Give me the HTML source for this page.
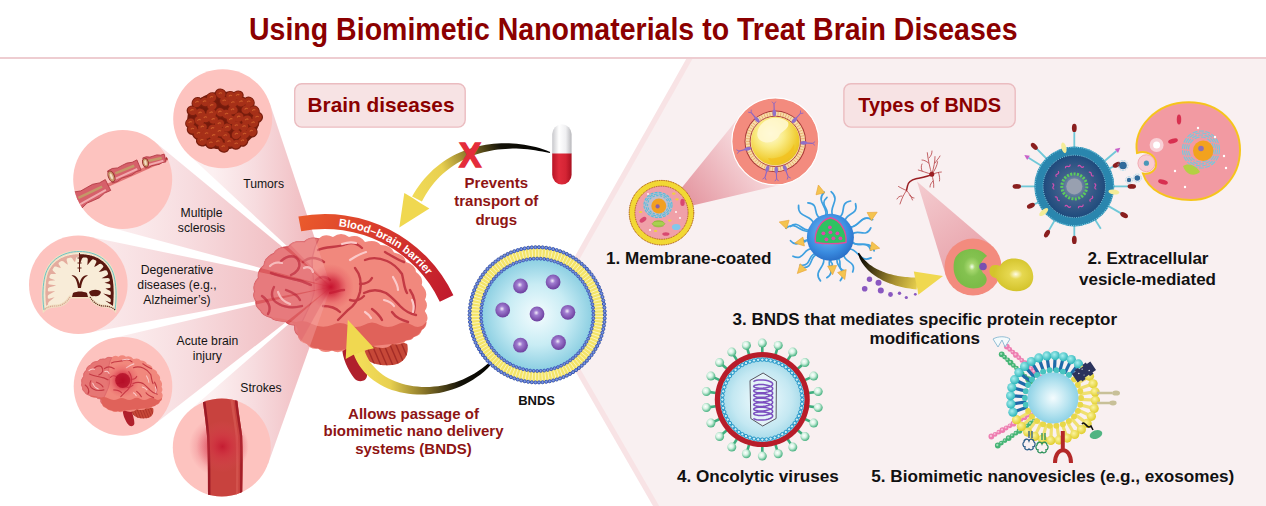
<!DOCTYPE html>
<html><head><meta charset="utf-8"><title>Using Biomimetic Nanomaterials to Treat Brain Diseases</title>
<style>
html,body{margin:0;padding:0;background:#fff;width:1266px;height:506px;overflow:hidden}
svg{display:block}
text{font-family:"Liberation Sans",sans-serif}
.b{font-weight:bold}
</style></head><body>
<svg width="1266" height="506" viewBox="0 0 1266 506">
<defs>
<linearGradient id="arr1" gradientUnits="userSpaceOnUse" x1="550" y1="150" x2="412" y2="205">
<stop offset="0" stop-color="#000"/><stop offset="0.3" stop-color="#141208"/><stop offset="0.52" stop-color="#8a7628"/><stop offset="0.72" stop-color="#e8d050"/><stop offset="1" stop-color="#f2dc58"/></linearGradient>
<linearGradient id="arr2" gradientUnits="userSpaceOnUse" x1="497" y1="355" x2="362" y2="360">
<stop offset="0" stop-color="#000"/><stop offset="0.28" stop-color="#141208"/><stop offset="0.55" stop-color="#8a7628"/><stop offset="0.8" stop-color="#e8d050"/><stop offset="1" stop-color="#f2dc58"/></linearGradient>
<linearGradient id="arr3" gradientUnits="userSpaceOnUse" x1="858" y1="253" x2="940" y2="280"><stop offset="0" stop-color="#000"/><stop offset="0.18" stop-color="#3a3010"/><stop offset="0.5" stop-color="#a89030"/><stop offset="0.8" stop-color="#ecd450"/><stop offset="1" stop-color="#f2dc58"/></linearGradient>
<linearGradient id="bbb" gradientUnits="userSpaceOnUse" x1="300" y1="220" x2="450" y2="300">
<stop offset="0" stop-color="#ea5a2c"/><stop offset="0.45" stop-color="#d83a2c"/><stop offset="1" stop-color="#c01a2c"/></linearGradient>
<radialGradient id="glow" cx="0.5" cy="0.5" r="0.5">
<stop offset="0" stop-color="#c40c2a" stop-opacity="0.95"/><stop offset="0.35" stop-color="#cc1c36" stop-opacity="0.7"/><stop offset="0.7" stop-color="#dc3c50" stop-opacity="0.25"/><stop offset="1" stop-color="#e04050" stop-opacity="0"/></radialGradient>
<radialGradient id="bnds" cx="0.5" cy="0.5" r="0.5">
<stop offset="0" stop-color="#f4fcfe"/><stop offset="0.55" stop-color="#c8ecf4"/><stop offset="1" stop-color="#8ccfe2"/></radialGradient>
<radialGradient id="pdot" cx="0.45" cy="0.42" r="0.6">
<stop offset="0" stop-color="#f4eefa"/><stop offset="0.3" stop-color="#a07cd0"/><stop offset="1" stop-color="#6a3c9c"/></radialGradient>
<linearGradient id="pillw" x1="0" y1="0" x2="1" y2="0">
<stop offset="0" stop-color="#c8c8cc"/><stop offset="0.35" stop-color="#ffffff"/><stop offset="0.7" stop-color="#f0f0f2"/><stop offset="1" stop-color="#b8b8bc"/></linearGradient>
<linearGradient id="pillr" x1="0" y1="0" x2="1" y2="0">
<stop offset="0" stop-color="#b81426"/><stop offset="0.35" stop-color="#e02c3c"/><stop offset="0.7" stop-color="#d42434"/><stop offset="1" stop-color="#a81020"/></linearGradient>
<radialGradient id="ysph" cx="0.4" cy="0.35" r="0.7">
<stop offset="0" stop-color="#fffce4"/><stop offset="0.4" stop-color="#faec88"/><stop offset="0.8" stop-color="#f0cc30"/><stop offset="1" stop-color="#e8bc1c"/></radialGradient>
<radialGradient id="vir" cx="0.5" cy="0.5" r="0.5">
<stop offset="0" stop-color="#f4fcfe"/><stop offset="0.7" stop-color="#c4e8f2"/><stop offset="1" stop-color="#a0d8e8"/></radialGradient>
<radialGradient id="exo" cx="0.5" cy="0.5" r="0.5">
<stop offset="0" stop-color="#f4fcfe"/><stop offset="0.6" stop-color="#b8e4f0"/><stop offset="1" stop-color="#8ed2e6"/></radialGradient>
<radialGradient id="ev" cx="0.5" cy="0.5" r="0.5">
<stop offset="0" stop-color="#a0acbc"/><stop offset="0.45" stop-color="#40608c"/><stop offset="1" stop-color="#1e4a7c"/></radialGradient>
<radialGradient id="blueNP" cx="0.45" cy="0.4" r="0.6">
<stop offset="0" stop-color="#80c4f4"/><stop offset="0.7" stop-color="#3a8ce0"/><stop offset="1" stop-color="#2a70c8"/></radialGradient>
<radialGradient id="ball" cx="0.4" cy="0.38" r="0.6">
<stop offset="0" stop-color="#ffffff"/><stop offset="0.45" stop-color="#d4f2e2"/><stop offset="1" stop-color="#4cb484"/></radialGradient>
<radialGradient id="greenblob" cx="0.55" cy="0.45" r="0.5">
<stop offset="0" stop-color="#f4fff0"/><stop offset="0.18" stop-color="#a8d870"/><stop offset="0.5" stop-color="#84c250"/><stop offset="1" stop-color="#7cbc48"/></radialGradient>
<radialGradient id="yellowbulb" cx="0.6" cy="0.48" r="0.5">
<stop offset="0" stop-color="#fffce8"/><stop offset="0.3" stop-color="#e6d850"/><stop offset="1" stop-color="#d4c42c"/></radialGradient>
<radialGradient id="strokeglow" cx="0.5" cy="0.5" r="0.5">
<stop offset="0" stop-color="#c41830" stop-opacity="0.9"/><stop offset="0.45" stop-color="#d83048" stop-opacity="0.4"/><stop offset="1" stop-color="#e05060" stop-opacity="0"/></radialGradient>
<radialGradient id="tealball" cx="0.4" cy="0.38" r="0.6"><stop offset="0" stop-color="#a8eeee"/><stop offset="1" stop-color="#30b8bc"/></radialGradient>
<radialGradient id="yelball" cx="0.4" cy="0.38" r="0.6"><stop offset="0" stop-color="#fbf4a0"/><stop offset="1" stop-color="#e2cf30"/></radialGradient>
<clipPath id="clipStroke"><circle cx="221.8" cy="447.4" r="49"/></clipPath>
<clipPath id="clipAcute"><circle cx="123" cy="386.4" r="49.3"/></clipPath>
</defs>

<polygon points="686.2,59 1266,59 1266,506 653.0,506 542.4,314.0" fill="#f8e3e5"/>
<polygon points="692.4,59 1266,59 1266,506 659.2,506 548.6,314.0" fill="#f9f0f1"/>
<rect x="0" y="57" width="1266" height="2" fill="#eecdd1"/>
<text x="249" y="39.7" class="b" font-size="30.7" fill="#8b0000" textLength="768.5" lengthAdjust="spacingAndGlyphs">Using Biomimetic Nanomaterials to Treat Brain Diseases</text>
<rect x="294.7" y="83.7" width="170.5" height="43.4" rx="7" fill="#f7e3e4" stroke="#ebbcc0" stroke-width="1.4"/>
<text x="307.5" y="112.1" class="b" font-size="21" fill="#8b0000" textLength="147" lengthAdjust="spacingAndGlyphs">Brain diseases</text>
<rect x="843.9" y="83.7" width="171.3" height="43.4" rx="7" fill="#f7e3e4" stroke="#ebbcc0" stroke-width="1.4"/>
<text x="858.3" y="112.1" class="b" font-size="21" fill="#8b0000" textLength="142.7" lengthAdjust="spacingAndGlyphs">Types of BNDS</text>
<linearGradient id="bm0" gradientUnits="userSpaceOnUse" x1="331" y1="0" x2="212.8" y2="0"><stop offset="0" stop-color="#eeb0b6"/><stop offset="0.3" stop-color="#f2c4c8"/><stop offset="0.65" stop-color="#f7dcdf"/><stop offset="1" stop-color="#fcf0f1"/></linearGradient>
<path d="M331,287 L269.7,103.1 L222.7,118.8 L189.0,155.1Z" fill="url(#bm0)"/>
<linearGradient id="bm1" gradientUnits="userSpaceOnUse" x1="331" y1="0" x2="112.8" y2="0"><stop offset="0" stop-color="#eeb0b6"/><stop offset="0.3" stop-color="#f2c4c8"/><stop offset="0.65" stop-color="#f7dcdf"/><stop offset="1" stop-color="#fcf0f1"/></linearGradient>
<path d="M331,287 L154.2,141.2 L122.7,179.4 L109.8,227.2Z" fill="url(#bm1)"/>
<linearGradient id="bm2" gradientUnits="userSpaceOnUse" x1="331" y1="0" x2="68.4" y2="0"><stop offset="0" stop-color="#eeb0b6"/><stop offset="0.3" stop-color="#f2c4c8"/><stop offset="0.65" stop-color="#f7dcdf"/><stop offset="1" stop-color="#fcf0f1"/></linearGradient>
<path d="M331,287 L88.4,236.4 L78.3,284.7 L87.5,333.1Z" fill="url(#bm2)"/>
<linearGradient id="bm3" gradientUnits="userSpaceOnUse" x1="331" y1="0" x2="113.1" y2="0"><stop offset="0" stop-color="#eeb0b6"/><stop offset="0.3" stop-color="#f2c4c8"/><stop offset="0.65" stop-color="#f7dcdf"/><stop offset="1" stop-color="#fcf0f1"/></linearGradient>
<path d="M331,287 L111.7,338.4 L123.0,386.4 L153.3,425.3Z" fill="url(#bm3)"/>
<linearGradient id="bm4" gradientUnits="userSpaceOnUse" x1="331" y1="0" x2="212.0" y2="0"><stop offset="0" stop-color="#eeb0b6"/><stop offset="0.3" stop-color="#f2c4c8"/><stop offset="0.65" stop-color="#f7dcdf"/><stop offset="1" stop-color="#fcf0f1"/></linearGradient>
<path d="M331,287 L189.6,410.5 L221.8,447.4 L268.0,463.9Z" fill="url(#bm4)"/>
<defs><g id="brainG">
<path d="M342,346 C342,358 348,370 354,378 C358,383 366,382 367,376 C368,368 362,356 362,346Z" fill="#b0202c"/>
<clipPath id="clipCb"><path d="M362,342 C376,338 396,338 407,344 C410,354 404,364 392,365 C380,366 371,364 365,358 C361,354 360,348 362,342Z"/></clipPath>
<path d="M362,342 C376,338 396,338 407,344 C410,354 404,364 392,365 C380,366 371,364 365,358 C361,354 360,348 362,342Z" fill="#c64838"/>
<g clip-path="url(#clipCb)">
<path d="M358.0,340.0 L370.0,368.0" stroke="#a42c26" stroke-width="1.4" fill="none"/>
<path d="M364.0,340.0 L376.0,368.0" stroke="#a42c26" stroke-width="1.4" fill="none"/>
<path d="M370.0,340.0 L382.0,368.0" stroke="#a42c26" stroke-width="1.4" fill="none"/>
<path d="M376.0,340.0 L388.0,368.0" stroke="#a42c26" stroke-width="1.4" fill="none"/>
<path d="M382.0,340.0 L394.0,368.0" stroke="#a42c26" stroke-width="1.4" fill="none"/>
<path d="M388.0,340.0 L400.0,368.0" stroke="#a42c26" stroke-width="1.4" fill="none"/>
<path d="M394.0,340.0 L406.0,368.0" stroke="#a42c26" stroke-width="1.4" fill="none"/>
<path d="M400.0,340.0 L412.0,368.0" stroke="#a42c26" stroke-width="1.4" fill="none"/>
<path d="M406.0,340.0 L418.0,368.0" stroke="#a42c26" stroke-width="1.4" fill="none"/>
</g>
<path d="M273.7,253.7 Q263.8,257.3 264.0,265.5 Q256.5,270.5 258.5,278.0 Q251.5,284.4 254.7,291.6 Q251.9,296.5 256.0,301.0 Q254.6,306.4 260.7,310.5 Q261.6,315.4 271.3,317.6 Q273.6,321.5 285.5,321.2 Q287.1,325.1 295.0,325.0 Q293.6,331.8 297.4,334.2 Q299.1,342.7 306.8,343.7 Q310.4,350.0 318.0,348.5 Q323.7,354.4 332.0,350.5 Q338.9,354.8 346.0,349.0 Q362.1,356.4 372.0,346.0 Q386.5,350.7 392.0,344.0 Q402.9,345.6 405.9,340.6 Q412.4,340.5 413.8,337.0 Q421.1,335.3 421.7,330.0 Q427.2,327.1 426.4,321.7 Q429.3,317.4 424.8,311.0 Q429.0,305.9 425.0,299.5 Q428.7,292.3 421.7,285.0 Q423.9,277.6 416.0,272.0 Q415.8,265.3 406.0,262.0 Q404.8,254.5 394.0,252.5 Q391.4,245.0 380.6,245.0 Q376.0,238.8 365.0,242.0 Q358.9,233.8 349.0,237.0 Q341.1,231.2 333.0,237.0 Q324.5,232.9 318.7,238.8 Q309.1,235.7 304.5,241.8 Q292.5,239.8 288.5,246.6 Q276.3,246.7 273.7,253.7Z" fill="#f1887d"/>
<path d="M318.7,238.8 Q309.5,236.5 304.5,241.8 Q293.1,240.5 288.5,246.6 Q277.1,247.3 273.7,253.7 Q264.7,257.7 264.0,265.5 Q257.3,270.7 258.5,278.0 Q252.4,284.4 254.7,291.6 Q252.5,296.4 256.0,301.0 Q255.2,306.3 260.7,310.5 Q262.3,315.1 271.3,317.6 Q274.4,321.2 285.5,321.2 Q287.6,324.7 295.0,325.0 Q294.0,331.5 297.4,334.2 C300,322 312,306 314,292 C316,278 306,262 318.7,238.8Z" fill="#e67674" stroke="#d65e64" stroke-width="1.3"/>
<path d="M271.3,317.6 Q278,322 285.5,321.2 Q292,321 295,325 Q299,329 297.4,334.2 Q300,341 306.8,343.7 Q311,348 318,348.5 Q325,351 332,350.5 Q339,351 346,349 L372,346 L392,344 Q400,344 405.9,340.6 Q411,340 413.8,337 Q419,335 421.7,330 Q426,327 426.4,321.7 Q420,330 412,325 Q404,320 396,325 Q388,329 380,325 Q372,320 364,325 Q356,329 348,325 Q340,321 332,325 Q322,329 312,324 Q304,319 296,322 C288,320 280,318 271.3,317.6Z" fill="#e0625a"/>
<path d="M281,261 C288,255 296,254 299,262 C301,268 296,273 291,275" stroke="#c43a44" stroke-width="2.4" fill="none" stroke-linecap="round"/>
<path d="M271,273 C278,276 288,278 297,280 C303,281 308,284 311,285" stroke="#c43a44" stroke-width="2.4" fill="none" stroke-linecap="round"/>
<path d="M274,287 C270,294 272,301 279,304 C286,308 294,308 302,306" stroke="#c43a44" stroke-width="2.4" fill="none" stroke-linecap="round"/>
<path d="M262,296 C268,300 272,308 268,314" stroke="#c43a44" stroke-width="2.4" fill="none" stroke-linecap="round"/>
<path d="M286,290 C292,292 298,296 300,300" stroke="#c43a44" stroke-width="2.4" fill="none" stroke-linecap="round"/>
<path d="M318,250 C326,246 338,248 346,244 C352,242 358,244 362,248" stroke="#c43a44" stroke-width="2.4" fill="none" stroke-linecap="round"/>
<path d="M303,262 C310,256 318,258 324,262" stroke="#c43a44" stroke-width="2.4" fill="none" stroke-linecap="round"/>
<path d="M365,260 C372,257 380,258 387,261 C394,264 398,268 402,274 C404,282 404,288 407,293" stroke="#c43a44" stroke-width="2.4" fill="none" stroke-linecap="round"/>
<path d="M355,268 C360,274 362,282 360,292 C358,300 354,306 348,310 C344,314 340,318 338,320" stroke="#c43a44" stroke-width="2.4" fill="none" stroke-linecap="round"/>
<path d="M360,284 C366,284 370,282 372,278" stroke="#c43a44" stroke-width="2.4" fill="none" stroke-linecap="round"/>
<path d="M350,300 C356,302 360,300 364,296" stroke="#c43a44" stroke-width="2.4" fill="none" stroke-linecap="round"/>
<path d="M364,293 C370,290 378,289 386,293 C392,297 396,302 400,306 C404,310 410,314 416,315" stroke="#c43a44" stroke-width="2.4" fill="none" stroke-linecap="round"/>
<path d="M372,309 C376,312 380,316 382,320" stroke="#c43a44" stroke-width="2.4" fill="none" stroke-linecap="round"/>
<path d="M330,293 C336,292 340,290 344,290" stroke="#c43a44" stroke-width="2.4" fill="none" stroke-linecap="round"/>
<path d="M323,306 C330,306 336,308 340,312" stroke="#c43a44" stroke-width="2.4" fill="none" stroke-linecap="round"/>
<path d="M385,252 C392,256 398,260 404,262" stroke="#c43a44" stroke-width="2.4" fill="none" stroke-linecap="round"/>
<path d="M410,290 C414,296 416,304 414,312" stroke="#c43a44" stroke-width="2.4" fill="none" stroke-linecap="round"/>
<path d="M392,312 C396,318 402,320 408,322" stroke="#c43a44" stroke-width="2.4" fill="none" stroke-linecap="round"/>
<path d="M316,280 C320,276 326,276 330,280" stroke="#c43a44" stroke-width="2.4" fill="none" stroke-linecap="round"/>
<path d="M342,244 C348,242 352,242 356,243" stroke="#fbcaca" stroke-width="2.2" fill="none" stroke-linecap="round"/>
<path d="M350,260 C356,256 362,253 366,252" stroke="#fbcaca" stroke-width="2.2" fill="none" stroke-linecap="round"/>
<path d="M393,277 C396,282 398,286 398,290" stroke="#fbcaca" stroke-width="2.2" fill="none" stroke-linecap="round"/>
<path d="M384,300 C388,301 392,303 394,306" stroke="#fbcaca" stroke-width="2.2" fill="none" stroke-linecap="round"/>
<path d="M365,312 C368,314 370,316 371,318" stroke="#fbcaca" stroke-width="2.2" fill="none" stroke-linecap="round"/>
<path d="M278,292 C280,298 284,302 290,304" stroke="#fbcaca" stroke-width="2.2" fill="none" stroke-linecap="round"/>
<path d="M270,266 C274,262 278,262 282,263" stroke="#fbcaca" stroke-width="2.2" fill="none" stroke-linecap="round"/>
<path d="M304,268 C308,266 312,268 313,272" stroke="#fbcaca" stroke-width="2.2" fill="none" stroke-linecap="round"/>
<path d="M412,300 C414,304 414,308 413,312" stroke="#fbcaca" stroke-width="2.2" fill="none" stroke-linecap="round"/>
</g></defs>
<use href="#brainG"/>
<clipPath id="clipBrain"><path d="M273.7,253.7 Q263.8,257.3 264.0,265.5 Q256.5,270.5 258.5,278.0 Q251.5,284.4 254.7,291.6 Q251.9,296.5 256.0,301.0 Q254.6,306.4 260.7,310.5 Q261.6,315.4 271.3,317.6 Q273.6,321.5 285.5,321.2 Q287.1,325.1 295.0,325.0 Q293.6,331.8 297.4,334.2 Q299.1,342.7 306.8,343.7 Q310.4,350.0 318.0,348.5 Q323.7,354.4 332.0,350.5 Q338.9,354.8 346.0,349.0 Q362.1,356.4 372.0,346.0 Q386.5,350.7 392.0,344.0 Q402.9,345.6 405.9,340.6 Q412.4,340.5 413.8,337.0 Q421.1,335.3 421.7,330.0 Q427.2,327.1 426.4,321.7 Q429.3,317.4 424.8,311.0 Q429.0,305.9 425.0,299.5 Q428.7,292.3 421.7,285.0 Q423.9,277.6 416.0,272.0 Q415.8,265.3 406.0,262.0 Q404.8,254.5 394.0,252.5 Q391.4,245.0 380.6,245.0 Q376.0,238.8 365.0,242.0 Q358.9,233.8 349.0,237.0 Q341.1,231.2 333.0,237.0 Q324.5,232.9 318.7,238.8 Q309.1,235.7 304.5,241.8 Q292.5,239.8 288.5,246.6 Q276.3,246.7 273.7,253.7Z"/></clipPath>
<g clip-path="url(#clipBrain)">
<path d="M331,287 L200,150 L150,300 L230,470Z" fill="#cc3440" opacity="0.4"/>
<path d="M331,287 L269.7,103.1 L222.7,118.8 L189.0,155.1Z" fill="#f6a6a6" opacity="0.42"/>
<path d="M331,287 L154.2,141.2 L122.7,179.4 L109.8,227.2Z" fill="#f6a6a6" opacity="0.42"/>
<path d="M331,287 L88.4,236.4 L78.3,284.7 L87.5,333.1Z" fill="#f6a6a6" opacity="0.42"/>
<path d="M331,287 L111.7,338.4 L123.0,386.4 L153.3,425.3Z" fill="#f6a6a6" opacity="0.42"/>
<path d="M331,287 L189.6,410.5 L221.8,447.4 L268.0,463.9Z" fill="#f6a6a6" opacity="0.42"/>
<path d="M281,261 C288,255 296,254 299,262 C301,268 296,273 291,275" stroke="#c43848" stroke-width="2.3" fill="none" stroke-linecap="round" opacity="0.75"/>
<path d="M271,273 C278,276 288,278 297,280 C303,281 308,284 311,285" stroke="#c43848" stroke-width="2.3" fill="none" stroke-linecap="round" opacity="0.75"/>
<path d="M274,287 C270,294 272,301 279,304 C286,308 294,308 302,306" stroke="#c43848" stroke-width="2.3" fill="none" stroke-linecap="round" opacity="0.75"/>
<path d="M262,296 C268,300 272,308 268,314" stroke="#c43848" stroke-width="2.3" fill="none" stroke-linecap="round" opacity="0.75"/>
<path d="M286,290 C292,292 298,296 300,300" stroke="#c43848" stroke-width="2.3" fill="none" stroke-linecap="round" opacity="0.75"/>
<path d="M278,292 C280,298 284,302 290,304" stroke="#fbcaca" stroke-width="2.2" fill="none" stroke-linecap="round" opacity="0.7"/>
<path d="M270,266 C274,262 278,262 282,263" stroke="#fbcaca" stroke-width="2.2" fill="none" stroke-linecap="round" opacity="0.7"/>
<path d="M304,268 C308,266 312,268 313,272" stroke="#fbcaca" stroke-width="2.2" fill="none" stroke-linecap="round" opacity="0.7"/>
</g>
<circle cx="331" cy="287" r="23" fill="url(#glow)"/>
<circle cx="222.7" cy="118.8" r="49.5" fill="#fdc3bf"/>
<circle cx="122.7" cy="179.4" r="49.5" fill="#fdc3bf"/>
<circle cx="78.3" cy="284.7" r="49.3" fill="#fdc3bf"/>
<circle cx="123" cy="386.4" r="49.3" fill="#fdc3bf"/>
<circle cx="221.8" cy="447.4" r="49" fill="#fdc3bf"/>
<ellipse cx="223" cy="120.5" rx="36" ry="29" fill="#741a0c"/>
<ellipse cx="220.1" cy="112.5" rx="5.7" ry="5.2" transform="rotate(36.7 220.1 112.5)" fill="#7a1e0e"/>
<ellipse cx="227.2" cy="127.8" rx="5.6" ry="5.1" transform="rotate(-12.1 227.2 127.8)" fill="#7a1e0e"/>
<ellipse cx="238.9" cy="117.5" rx="6.1" ry="5.6" transform="rotate(-34.3 238.9 117.5)" fill="#7a1e0e"/>
<ellipse cx="223.5" cy="147.2" rx="6.0" ry="5.5" transform="rotate(27.4 223.5 147.2)" fill="#7a1e0e"/>
<ellipse cx="213.9" cy="136.0" rx="5.7" ry="5.2" transform="rotate(-20.9 213.9 136.0)" fill="#7a1e0e"/>
<ellipse cx="236.6" cy="134.7" rx="5.9" ry="5.4" transform="rotate(-41.2 236.6 134.7)" fill="#7a1e0e"/>
<ellipse cx="204.8" cy="102.2" rx="5.8" ry="5.3" transform="rotate(31.0 204.8 102.2)" fill="#7a1e0e"/>
<ellipse cx="213.5" cy="120.0" rx="5.6" ry="5.1" transform="rotate(-7.5 213.5 120.0)" fill="#7a1e0e"/>
<ellipse cx="230.6" cy="96.6" rx="6.0" ry="5.5" transform="rotate(39.5 230.6 96.6)" fill="#7a1e0e"/>
<ellipse cx="190.5" cy="123.0" rx="5.6" ry="5.1" transform="rotate(-41.5 190.5 123.0)" fill="#7a1e0e"/>
<ellipse cx="202.5" cy="127.5" rx="5.6" ry="5.1" transform="rotate(-13.4 202.5 127.5)" fill="#7a1e0e"/>
<ellipse cx="236.6" cy="126.2" rx="6.1" ry="5.6" transform="rotate(-41.3 236.6 126.2)" fill="#7a1e0e"/>
<ellipse cx="211.1" cy="143.4" rx="6.0" ry="5.5" transform="rotate(-4.9 211.1 143.4)" fill="#7a1e0e"/>
<ellipse cx="246.4" cy="109.7" rx="5.9" ry="5.4" transform="rotate(-28.7 246.4 109.7)" fill="#7a1e0e"/>
<ellipse cx="247.0" cy="120.3" rx="6.1" ry="5.6" transform="rotate(-25.2 247.0 120.3)" fill="#7a1e0e"/>
<ellipse cx="200.3" cy="113.5" rx="6.0" ry="5.5" transform="rotate(46.6 200.3 113.5)" fill="#7a1e0e"/>
<ellipse cx="211.7" cy="97.9" rx="6.0" ry="5.5" transform="rotate(-36.3 211.7 97.9)" fill="#7a1e0e"/>
<ellipse cx="219.6" cy="124.2" rx="5.9" ry="5.4" transform="rotate(-32.7 219.6 124.2)" fill="#7a1e0e"/>
<ellipse cx="253.3" cy="123.3" rx="6.0" ry="5.4" transform="rotate(3.7 253.3 123.3)" fill="#7a1e0e"/>
<ellipse cx="202.0" cy="140.9" rx="6.1" ry="5.6" transform="rotate(12.5 202.0 140.9)" fill="#7a1e0e"/>
<ellipse cx="192.3" cy="111.0" rx="5.8" ry="5.3" transform="rotate(28.0 192.3 111.0)" fill="#7a1e0e"/>
<ellipse cx="212.8" cy="129.0" rx="5.8" ry="5.3" transform="rotate(-24.4 212.8 129.0)" fill="#7a1e0e"/>
<ellipse cx="224.4" cy="101.4" rx="5.9" ry="5.4" transform="rotate(44.4 224.4 101.4)" fill="#7a1e0e"/>
<ellipse cx="231.1" cy="120.0" rx="5.8" ry="5.3" transform="rotate(33.7 231.1 120.0)" fill="#7a1e0e"/>
<ellipse cx="205.6" cy="118.1" rx="6.0" ry="5.5" transform="rotate(6.8 205.6 118.1)" fill="#7a1e0e"/>
<ellipse cx="198.7" cy="133.8" rx="6.1" ry="5.5" transform="rotate(-36.2 198.7 133.8)" fill="#7a1e0e"/>
<ellipse cx="232.8" cy="110.3" rx="5.9" ry="5.4" transform="rotate(10.7 232.8 110.3)" fill="#7a1e0e"/>
<ellipse cx="241.2" cy="102.3" rx="6.0" ry="5.5" transform="rotate(-16.5 241.2 102.3)" fill="#7a1e0e"/>
<ellipse cx="212.0" cy="106.0" rx="5.8" ry="5.3" transform="rotate(-11.5 212.0 106.0)" fill="#7a1e0e"/>
<ellipse cx="251.5" cy="131.7" rx="6.2" ry="5.7" transform="rotate(25.5 251.5 131.7)" fill="#7a1e0e"/>
<ellipse cx="229.3" cy="142.2" rx="6.2" ry="5.6" transform="rotate(42.2 229.3 142.2)" fill="#7a1e0e"/>
<ellipse cx="254.0" cy="111.0" rx="6.0" ry="5.4" transform="rotate(39.4 254.0 111.0)" fill="#7a1e0e"/>
<ellipse cx="225.5" cy="136.1" rx="5.7" ry="5.2" transform="rotate(38.0 225.5 136.1)" fill="#7a1e0e"/>
<ellipse cx="244.7" cy="134.6" rx="5.7" ry="5.2" transform="rotate(-2.2 244.7 134.6)" fill="#7a1e0e"/>
<ellipse cx="242.7" cy="141.3" rx="5.8" ry="5.3" transform="rotate(-30.1 242.7 141.3)" fill="#7a1e0e"/>
<ellipse cx="197.2" cy="102.8" rx="6.0" ry="5.4" transform="rotate(-46.9 197.2 102.8)" fill="#7a1e0e"/>
<ellipse cx="218.1" cy="142.2" rx="5.9" ry="5.4" transform="rotate(25.4 218.1 142.2)" fill="#7a1e0e"/>
<ellipse cx="199.2" cy="120.8" rx="6.0" ry="5.5" transform="rotate(43.2 199.2 120.8)" fill="#7a1e0e"/>
<ellipse cx="220.6" cy="94.1" rx="6.0" ry="5.5" transform="rotate(22.7 220.6 94.1)" fill="#7a1e0e"/>
<ellipse cx="248.9" cy="102.4" rx="6.1" ry="5.6" transform="rotate(42.8 248.9 102.4)" fill="#7a1e0e"/>
<ellipse cx="206.8" cy="134.1" rx="6.3" ry="5.7" transform="rotate(-33.5 206.8 134.1)" fill="#7a1e0e"/>
<ellipse cx="192.6" cy="129.6" rx="5.9" ry="5.4" transform="rotate(6.5 192.6 129.6)" fill="#7a1e0e"/>
<ellipse cx="211.3" cy="113.3" rx="6.1" ry="5.6" transform="rotate(10.1 211.3 113.3)" fill="#7a1e0e"/>
<ellipse cx="226.7" cy="114.6" rx="6.1" ry="5.5" transform="rotate(31.3 226.7 114.6)" fill="#7a1e0e"/>
<ellipse cx="244.3" cy="127.1" rx="5.6" ry="5.1" transform="rotate(-49.7 244.3 127.1)" fill="#7a1e0e"/>
<ellipse cx="233.1" cy="103.1" rx="6.1" ry="5.6" transform="rotate(-47.7 233.1 103.1)" fill="#7a1e0e"/>
<ellipse cx="257.3" cy="117.6" rx="5.9" ry="5.4" transform="rotate(-36.8 257.3 117.6)" fill="#7a1e0e"/>
<ellipse cx="219.6" cy="131.9" rx="6.3" ry="5.7" transform="rotate(31.3 219.6 131.9)" fill="#7a1e0e"/>
<ellipse cx="236.4" cy="144.4" rx="5.8" ry="5.2" transform="rotate(-37.4 236.4 144.4)" fill="#7a1e0e"/>
<ellipse cx="237.9" cy="95.8" rx="5.9" ry="5.3" transform="rotate(-15.4 237.9 95.8)" fill="#7a1e0e"/>
<ellipse cx="220.1" cy="112.2" rx="4.6" ry="4.1" transform="rotate(36.7 220.1 112.5)" fill="#a63018"/>
<path d="M218.3,112.3 q1.5,-2 3.2,-0.6" stroke="#d0602c" stroke-width="1.1" fill="none" opacity="0.9"/>
<ellipse cx="227.2" cy="127.5" rx="4.5" ry="4.0" transform="rotate(-12.1 227.2 127.8)" fill="#a63018"/>
<path d="M225.4,127.6 q1.5,-2 3.2,-0.6" stroke="#d0602c" stroke-width="1.1" fill="none" opacity="0.9"/>
<ellipse cx="238.9" cy="117.2" rx="5.0" ry="4.5" transform="rotate(-34.3 238.9 117.5)" fill="#a63018"/>
<path d="M237.1,117.3 q1.5,-2 3.2,-0.6" stroke="#d0602c" stroke-width="1.1" fill="none" opacity="0.9"/>
<ellipse cx="223.5" cy="146.9" rx="4.9" ry="4.4" transform="rotate(27.4 223.5 147.2)" fill="#a63018"/>
<path d="M221.7,147.0 q1.5,-2 3.2,-0.6" stroke="#d0602c" stroke-width="1.1" fill="none" opacity="0.9"/>
<ellipse cx="213.9" cy="135.7" rx="4.6" ry="4.1" transform="rotate(-20.9 213.9 136.0)" fill="#a63018"/>
<path d="M212.1,135.8 q1.5,-2 3.2,-0.6" stroke="#d0602c" stroke-width="1.1" fill="none" opacity="0.9"/>
<ellipse cx="236.6" cy="134.4" rx="4.8" ry="4.3" transform="rotate(-41.2 236.6 134.7)" fill="#a63018"/>
<path d="M234.8,134.5 q1.5,-2 3.2,-0.6" stroke="#d0602c" stroke-width="1.1" fill="none" opacity="0.9"/>
<ellipse cx="204.8" cy="101.9" rx="4.7" ry="4.2" transform="rotate(31.0 204.8 102.2)" fill="#a63018"/>
<path d="M203.0,102.0 q1.5,-2 3.2,-0.6" stroke="#d0602c" stroke-width="1.1" fill="none" opacity="0.9"/>
<ellipse cx="213.5" cy="119.7" rx="4.5" ry="4.0" transform="rotate(-7.5 213.5 120.0)" fill="#a63018"/>
<path d="M211.7,119.8 q1.5,-2 3.2,-0.6" stroke="#d0602c" stroke-width="1.1" fill="none" opacity="0.9"/>
<ellipse cx="230.6" cy="96.3" rx="4.9" ry="4.4" transform="rotate(39.5 230.6 96.6)" fill="#a63018"/>
<path d="M228.8,96.4 q1.5,-2 3.2,-0.6" stroke="#d0602c" stroke-width="1.1" fill="none" opacity="0.9"/>
<ellipse cx="190.5" cy="122.7" rx="4.5" ry="4.0" transform="rotate(-41.5 190.5 123.0)" fill="#a63018"/>
<path d="M188.7,122.8 q1.5,-2 3.2,-0.6" stroke="#d0602c" stroke-width="1.1" fill="none" opacity="0.9"/>
<ellipse cx="202.5" cy="127.2" rx="4.5" ry="4.0" transform="rotate(-13.4 202.5 127.5)" fill="#a63018"/>
<path d="M200.7,127.3 q1.5,-2 3.2,-0.6" stroke="#d0602c" stroke-width="1.1" fill="none" opacity="0.9"/>
<ellipse cx="236.6" cy="125.9" rx="5.0" ry="4.5" transform="rotate(-41.3 236.6 126.2)" fill="#a63018"/>
<path d="M234.8,126.0 q1.5,-2 3.2,-0.6" stroke="#d0602c" stroke-width="1.1" fill="none" opacity="0.9"/>
<ellipse cx="211.1" cy="143.1" rx="4.9" ry="4.4" transform="rotate(-4.9 211.1 143.4)" fill="#a63018"/>
<path d="M209.3,143.2 q1.5,-2 3.2,-0.6" stroke="#d0602c" stroke-width="1.1" fill="none" opacity="0.9"/>
<ellipse cx="246.4" cy="109.4" rx="4.8" ry="4.3" transform="rotate(-28.7 246.4 109.7)" fill="#a63018"/>
<path d="M244.6,109.5 q1.5,-2 3.2,-0.6" stroke="#d0602c" stroke-width="1.1" fill="none" opacity="0.9"/>
<ellipse cx="247.0" cy="120.0" rx="5.0" ry="4.5" transform="rotate(-25.2 247.0 120.3)" fill="#a63018"/>
<path d="M245.2,120.1 q1.5,-2 3.2,-0.6" stroke="#d0602c" stroke-width="1.1" fill="none" opacity="0.9"/>
<ellipse cx="200.3" cy="113.2" rx="4.9" ry="4.4" transform="rotate(46.6 200.3 113.5)" fill="#a63018"/>
<path d="M198.5,113.3 q1.5,-2 3.2,-0.6" stroke="#d0602c" stroke-width="1.1" fill="none" opacity="0.9"/>
<ellipse cx="211.7" cy="97.6" rx="4.9" ry="4.4" transform="rotate(-36.3 211.7 97.9)" fill="#a63018"/>
<path d="M209.9,97.7 q1.5,-2 3.2,-0.6" stroke="#d0602c" stroke-width="1.1" fill="none" opacity="0.9"/>
<ellipse cx="219.6" cy="123.9" rx="4.8" ry="4.3" transform="rotate(-32.7 219.6 124.2)" fill="#a63018"/>
<path d="M217.8,124.0 q1.5,-2 3.2,-0.6" stroke="#d0602c" stroke-width="1.1" fill="none" opacity="0.9"/>
<ellipse cx="253.3" cy="123.0" rx="4.9" ry="4.3" transform="rotate(3.7 253.3 123.3)" fill="#a63018"/>
<path d="M251.5,123.1 q1.5,-2 3.2,-0.6" stroke="#d0602c" stroke-width="1.1" fill="none" opacity="0.9"/>
<ellipse cx="202.0" cy="140.6" rx="5.0" ry="4.5" transform="rotate(12.5 202.0 140.9)" fill="#a63018"/>
<path d="M200.2,140.7 q1.5,-2 3.2,-0.6" stroke="#d0602c" stroke-width="1.1" fill="none" opacity="0.9"/>
<ellipse cx="192.3" cy="110.7" rx="4.7" ry="4.2" transform="rotate(28.0 192.3 111.0)" fill="#a63018"/>
<path d="M190.5,110.8 q1.5,-2 3.2,-0.6" stroke="#d0602c" stroke-width="1.1" fill="none" opacity="0.9"/>
<ellipse cx="212.8" cy="128.7" rx="4.7" ry="4.2" transform="rotate(-24.4 212.8 129.0)" fill="#a63018"/>
<path d="M211.0,128.8 q1.5,-2 3.2,-0.6" stroke="#d0602c" stroke-width="1.1" fill="none" opacity="0.9"/>
<ellipse cx="224.4" cy="101.1" rx="4.8" ry="4.3" transform="rotate(44.4 224.4 101.4)" fill="#a63018"/>
<path d="M222.6,101.2 q1.5,-2 3.2,-0.6" stroke="#d0602c" stroke-width="1.1" fill="none" opacity="0.9"/>
<ellipse cx="231.1" cy="119.7" rx="4.7" ry="4.2" transform="rotate(33.7 231.1 120.0)" fill="#a63018"/>
<path d="M229.3,119.8 q1.5,-2 3.2,-0.6" stroke="#d0602c" stroke-width="1.1" fill="none" opacity="0.9"/>
<ellipse cx="205.6" cy="117.8" rx="4.9" ry="4.4" transform="rotate(6.8 205.6 118.1)" fill="#a63018"/>
<path d="M203.8,117.9 q1.5,-2 3.2,-0.6" stroke="#d0602c" stroke-width="1.1" fill="none" opacity="0.9"/>
<ellipse cx="198.7" cy="133.5" rx="5.0" ry="4.4" transform="rotate(-36.2 198.7 133.8)" fill="#a63018"/>
<path d="M196.9,133.6 q1.5,-2 3.2,-0.6" stroke="#d0602c" stroke-width="1.1" fill="none" opacity="0.9"/>
<ellipse cx="232.8" cy="110.0" rx="4.8" ry="4.3" transform="rotate(10.7 232.8 110.3)" fill="#a63018"/>
<path d="M231.0,110.1 q1.5,-2 3.2,-0.6" stroke="#d0602c" stroke-width="1.1" fill="none" opacity="0.9"/>
<ellipse cx="241.2" cy="102.0" rx="4.9" ry="4.4" transform="rotate(-16.5 241.2 102.3)" fill="#a63018"/>
<path d="M239.4,102.1 q1.5,-2 3.2,-0.6" stroke="#d0602c" stroke-width="1.1" fill="none" opacity="0.9"/>
<ellipse cx="212.0" cy="105.7" rx="4.7" ry="4.2" transform="rotate(-11.5 212.0 106.0)" fill="#a63018"/>
<path d="M210.2,105.8 q1.5,-2 3.2,-0.6" stroke="#d0602c" stroke-width="1.1" fill="none" opacity="0.9"/>
<ellipse cx="251.5" cy="131.4" rx="5.1" ry="4.6" transform="rotate(25.5 251.5 131.7)" fill="#a63018"/>
<path d="M249.7,131.5 q1.5,-2 3.2,-0.6" stroke="#d0602c" stroke-width="1.1" fill="none" opacity="0.9"/>
<ellipse cx="229.3" cy="141.9" rx="5.1" ry="4.5" transform="rotate(42.2 229.3 142.2)" fill="#a63018"/>
<path d="M227.5,142.0 q1.5,-2 3.2,-0.6" stroke="#d0602c" stroke-width="1.1" fill="none" opacity="0.9"/>
<ellipse cx="254.0" cy="110.7" rx="4.9" ry="4.3" transform="rotate(39.4 254.0 111.0)" fill="#a63018"/>
<path d="M252.2,110.8 q1.5,-2 3.2,-0.6" stroke="#d0602c" stroke-width="1.1" fill="none" opacity="0.9"/>
<ellipse cx="225.5" cy="135.8" rx="4.6" ry="4.1" transform="rotate(38.0 225.5 136.1)" fill="#a63018"/>
<path d="M223.7,135.9 q1.5,-2 3.2,-0.6" stroke="#d0602c" stroke-width="1.1" fill="none" opacity="0.9"/>
<ellipse cx="244.7" cy="134.3" rx="4.6" ry="4.1" transform="rotate(-2.2 244.7 134.6)" fill="#a63018"/>
<path d="M242.9,134.4 q1.5,-2 3.2,-0.6" stroke="#d0602c" stroke-width="1.1" fill="none" opacity="0.9"/>
<ellipse cx="242.7" cy="141.0" rx="4.7" ry="4.2" transform="rotate(-30.1 242.7 141.3)" fill="#a63018"/>
<path d="M240.9,141.1 q1.5,-2 3.2,-0.6" stroke="#d0602c" stroke-width="1.1" fill="none" opacity="0.9"/>
<ellipse cx="197.2" cy="102.5" rx="4.9" ry="4.3" transform="rotate(-46.9 197.2 102.8)" fill="#a63018"/>
<path d="M195.4,102.6 q1.5,-2 3.2,-0.6" stroke="#d0602c" stroke-width="1.1" fill="none" opacity="0.9"/>
<ellipse cx="218.1" cy="141.9" rx="4.8" ry="4.3" transform="rotate(25.4 218.1 142.2)" fill="#a63018"/>
<path d="M216.3,142.0 q1.5,-2 3.2,-0.6" stroke="#d0602c" stroke-width="1.1" fill="none" opacity="0.9"/>
<ellipse cx="199.2" cy="120.5" rx="4.9" ry="4.4" transform="rotate(43.2 199.2 120.8)" fill="#a63018"/>
<path d="M197.4,120.6 q1.5,-2 3.2,-0.6" stroke="#d0602c" stroke-width="1.1" fill="none" opacity="0.9"/>
<ellipse cx="220.6" cy="93.8" rx="4.9" ry="4.4" transform="rotate(22.7 220.6 94.1)" fill="#a63018"/>
<path d="M218.8,93.9 q1.5,-2 3.2,-0.6" stroke="#d0602c" stroke-width="1.1" fill="none" opacity="0.9"/>
<ellipse cx="248.9" cy="102.1" rx="5.0" ry="4.5" transform="rotate(42.8 248.9 102.4)" fill="#a63018"/>
<path d="M247.1,102.2 q1.5,-2 3.2,-0.6" stroke="#d0602c" stroke-width="1.1" fill="none" opacity="0.9"/>
<ellipse cx="206.8" cy="133.8" rx="5.2" ry="4.6" transform="rotate(-33.5 206.8 134.1)" fill="#a63018"/>
<path d="M205.0,133.9 q1.5,-2 3.2,-0.6" stroke="#d0602c" stroke-width="1.1" fill="none" opacity="0.9"/>
<ellipse cx="192.6" cy="129.3" rx="4.8" ry="4.3" transform="rotate(6.5 192.6 129.6)" fill="#a63018"/>
<path d="M190.8,129.4 q1.5,-2 3.2,-0.6" stroke="#d0602c" stroke-width="1.1" fill="none" opacity="0.9"/>
<ellipse cx="211.3" cy="113.0" rx="5.0" ry="4.5" transform="rotate(10.1 211.3 113.3)" fill="#a63018"/>
<path d="M209.5,113.1 q1.5,-2 3.2,-0.6" stroke="#d0602c" stroke-width="1.1" fill="none" opacity="0.9"/>
<ellipse cx="226.7" cy="114.3" rx="5.0" ry="4.4" transform="rotate(31.3 226.7 114.6)" fill="#a63018"/>
<path d="M224.9,114.4 q1.5,-2 3.2,-0.6" stroke="#d0602c" stroke-width="1.1" fill="none" opacity="0.9"/>
<ellipse cx="244.3" cy="126.8" rx="4.5" ry="4.0" transform="rotate(-49.7 244.3 127.1)" fill="#a63018"/>
<path d="M242.5,126.9 q1.5,-2 3.2,-0.6" stroke="#d0602c" stroke-width="1.1" fill="none" opacity="0.9"/>
<ellipse cx="233.1" cy="102.8" rx="5.0" ry="4.5" transform="rotate(-47.7 233.1 103.1)" fill="#a63018"/>
<path d="M231.3,102.9 q1.5,-2 3.2,-0.6" stroke="#d0602c" stroke-width="1.1" fill="none" opacity="0.9"/>
<ellipse cx="257.3" cy="117.3" rx="4.8" ry="4.3" transform="rotate(-36.8 257.3 117.6)" fill="#a63018"/>
<path d="M255.5,117.4 q1.5,-2 3.2,-0.6" stroke="#d0602c" stroke-width="1.1" fill="none" opacity="0.9"/>
<ellipse cx="219.6" cy="131.6" rx="5.2" ry="4.6" transform="rotate(31.3 219.6 131.9)" fill="#a63018"/>
<path d="M217.8,131.7 q1.5,-2 3.2,-0.6" stroke="#d0602c" stroke-width="1.1" fill="none" opacity="0.9"/>
<ellipse cx="236.4" cy="144.1" rx="4.7" ry="4.1" transform="rotate(-37.4 236.4 144.4)" fill="#a63018"/>
<path d="M234.6,144.2 q1.5,-2 3.2,-0.6" stroke="#d0602c" stroke-width="1.1" fill="none" opacity="0.9"/>
<ellipse cx="237.9" cy="95.5" rx="4.8" ry="4.2" transform="rotate(-15.4 237.9 95.8)" fill="#a63018"/>
<path d="M236.1,95.6 q1.5,-2 3.2,-0.6" stroke="#d0602c" stroke-width="1.1" fill="none" opacity="0.9"/>
<clipPath id="clipMS"><circle cx="122.7" cy="179.4" r="49.5"/></clipPath>
<g clip-path="url(#clipMS)">
<path d="M70,202 L170,157.5" stroke="#e27474" stroke-width="3.2" fill="none"/>
<path d="M166,159 L173,155" stroke="#a82c2c" stroke-width="2.2"/>
<path d="M75.8,210.6 L82.0,208.0 L87.1,203.1 L93.2,200.5 L99.4,197.7 L104.6,193.1 L110.7,190.4 L105.3,179.6 L99.4,182.9 L92.6,184.3 L86.8,187.5 L80.9,190.9 L74.0,192.0 L68.2,195.4Z" fill="#d6606a" stroke="#b23a44" stroke-width="0.9" stroke-linejoin="round"/>
<path d="M79.5,204.6 L105.9,189.8" stroke="#f2aaae" stroke-width="2"/>
<path d="M78.4,197.9 L102.1,186.6" stroke="#c49868" stroke-width="2.6"/>
<ellipse cx="73.3" cy="202.3" rx="3" ry="7.7" transform="rotate(-26.6 73.3 202.3)" fill="#c89a6c" stroke="#9a3030" stroke-width="0.9"/>
<ellipse cx="73.3" cy="202.3" rx="1.2" ry="4.25" transform="rotate(-26.6 73.3 202.3)" fill="#f4dcc4"/>
<path d="M112.5,183.0 L117.5,181.5 L121.8,178.1 L126.8,176.6 L131.8,174.9 L136.1,171.7 L141.1,170.1 L136.9,159.9 L132.2,162.3 L126.9,163.1 L122.2,165.4 L117.6,167.9 L112.2,168.5 L107.5,171.0Z" fill="#d6606a" stroke="#b23a44" stroke-width="0.9" stroke-linejoin="round"/>
<path d="M115.7,178.6 L137.3,169.0" stroke="#f2aaae" stroke-width="2"/>
<path d="M115.3,173.4 L134.2,165.8" stroke="#c49868" stroke-width="2.6"/>
<ellipse cx="111.4" cy="176.4" rx="3" ry="5.7" transform="rotate(-22.5 111.4 176.4)" fill="#c89a6c" stroke="#9a3030" stroke-width="0.9"/>
<ellipse cx="111.4" cy="176.4" rx="1.2" ry="3.25" transform="rotate(-22.5 111.4 176.4)" fill="#f4dcc4"/>
<path d="M145.2,168.1 L148.8,167.6 L152.0,165.5 L155.6,165.0 L159.1,164.4 L162.4,162.5 L165.9,161.9 L164.1,154.1 L160.6,155.2 L156.9,154.9 L153.4,156.0 L150.0,157.1 L146.2,156.8 L142.8,157.9Z" fill="#d6606a" stroke="#b23a44" stroke-width="0.9" stroke-linejoin="round"/>
<path d="M147.8,165.1 L163.4,160.7" stroke="#f2aaae" stroke-width="2"/>
<path d="M148.0,161.0 L161.7,158.0" stroke="#c49868" stroke-width="2.6"/>
<ellipse cx="145.5" cy="162.7" rx="3" ry="4.45" transform="rotate(-13.4 145.5 162.7)" fill="#c89a6c" stroke="#9a3030" stroke-width="0.9"/>
<ellipse cx="145.5" cy="162.7" rx="1.2" ry="2.625" transform="rotate(-13.4 145.5 162.7)" fill="#f4dcc4"/>
</g>
<path d="M44,310 C42,296 43,284 45,276 C49,260 63,251.5 79.5,251.5 C96,251.5 110,260 114,276 C116,284 117,296 115,310 C112,307 108,306 104,306 C98,306 93,302 90,297 L70,297 C67,302 62,306 56,306 C51,306 47,307 44,310Z" fill="#f8ecd8" stroke="#efe0c2" stroke-width="3"/>
<path d="M44,310 C42,296 43,284 45,276 C49,260 63,251.5 79.5,251.5 C96,251.5 110,260 114,276 C116,284 117,296 115,310" fill="none" stroke="#5fbec6" stroke-width="0.9"/>
<path d="M115,310 C112,307 108,306 104,306 C98,306 93,302 90,297" fill="none" stroke="#5a1810" stroke-width="1.1" stroke-dasharray="1.2 0.8"/>
<path d="M70,297 C67,302 62,306 56,306 C51,306 47,307 44,310" fill="none" stroke="#d8a090" stroke-width="1.1" stroke-dasharray="1.2 0.8"/>
<path d="M80.0,254.2 L81.2,254.2 L82.4,254.3 L83.5,254.3 L84.7,254.4 L85.8,254.6 L86.9,254.7 L88.0,254.9 L89.1,255.1 L90.2,255.4 L91.3,255.6 L92.3,255.9 L93.3,256.3 L94.3,256.6 L95.3,257.0 L96.2,257.4 L97.2,257.8 L98.1,258.3 L99.0,258.8 L99.8,259.3 L100.7,259.9 L101.5,260.4 L102.3,261.0 L103.1,261.6 L103.8,262.3 L104.6,262.9 L105.3,263.6 L105.9,264.4 L106.6,265.1 L107.2,265.9 L107.8,266.7 L108.3,267.5 L108.9,268.4 L109.4,269.2 L109.8,270.1 L110.3,271.0 L110.7,272.0 L111.1,273.0 L111.4,273.9 L111.7,275.0 L112.0,276.0 L112.1,276.6 L112.3,277.2 L112.4,277.9 L112.5,278.5 L112.7,279.2 L112.8,279.8 L112.9,280.5 L113.0,281.2 L113.1,281.9 L113.1,282.7 L113.2,283.4 L113.3,284.1 L113.4,284.9 L113.4,285.6 L113.5,286.4 L113.5,287.1 L113.5,287.9 L113.6,288.7 L113.6,289.5 L113.6,290.2 L113.6,291.0 L113.7,291.8 L113.7,292.6 L113.7,293.4 L113.7,294.2 L113.6,295.0 L113.6,295.8 L113.6,296.6 L113.6,297.4 L113.5,298.2 L113.5,299.0 L113.5,299.8 L113.4,300.6 L113.4,301.4 L113.3,302.2 L113.3,302.9 L113.2,303.7 L113.1,304.5 L113.1,305.2 L113.0,306.0 L105.3,300.7 L107.1,301.2 L109.6,302.2 L110.6,302.1 L110.7,301.4 L110.7,300.7 L110.8,299.9 L110.7,299.1 L109.4,297.8 L105.7,295.3 L103.2,293.5 L105.6,294.0 L109.4,294.9 L110.7,294.7 L110.8,294.0 L110.8,293.3 L110.8,292.5 L110.7,291.8 L109.8,290.8 L107.2,289.5 L105.4,288.5 L107.1,288.2 L109.6,288.0 L110.5,287.5 L110.5,286.8 L110.5,286.1 L110.4,285.4 L110.3,284.7 L109.3,284.0 L106.4,283.3 L104.5,282.7 L106.3,282.2 L108.9,281.4 L109.8,280.8 L109.8,280.1 L109.7,279.5 L109.6,278.9 L109.3,278.4 L107.9,278.0 L104.2,278.2 L101.6,278.3 L103.8,277.0 L107.2,275.2 L108.1,273.9 L107.9,273.0 L107.5,272.1 L107.1,271.3 L106.6,270.5 L104.9,270.3 L101.3,271.4 L98.7,272.0 L100.4,270.2 L102.9,267.6 L103.4,266.2 L102.9,265.5 L102.2,264.8 L101.6,264.2 L100.8,263.7 L99.3,264.0 L96.3,265.9 L94.2,267.1 L95.0,265.1 L96.4,262.1 L96.2,260.8 L95.5,260.3 L94.6,259.9 L93.8,259.6 L92.8,259.3 L91.4,260.2 L89.0,263.2 L87.3,265.2 L87.5,262.8 L87.8,259.3 L87.2,257.9 L86.2,257.6 L85.2,257.5 L84.2,257.4 L83.2,257.4 L82.0,258.4 L80.9,261.4 L80.0,263.5Z" fill="#5a1810"/>
<path d="M79.0,254.2 L77.8,254.2 L76.6,254.3 L75.5,254.3 L74.3,254.4 L73.2,254.6 L72.1,254.7 L71.0,254.9 L69.9,255.1 L68.8,255.4 L67.7,255.6 L66.7,255.9 L65.7,256.3 L64.7,256.6 L63.7,257.0 L62.8,257.4 L61.8,257.8 L60.9,258.3 L60.0,258.8 L59.2,259.3 L58.3,259.9 L57.5,260.4 L56.7,261.0 L55.9,261.6 L55.2,262.3 L54.4,262.9 L53.7,263.6 L53.1,264.4 L52.4,265.1 L51.8,265.9 L51.2,266.7 L50.7,267.5 L50.1,268.4 L49.6,269.2 L49.2,270.1 L48.7,271.0 L48.3,272.0 L47.9,273.0 L47.6,273.9 L47.3,275.0 L47.0,276.0 L46.9,276.6 L46.7,277.2 L46.6,277.9 L46.5,278.5 L46.3,279.2 L46.2,279.8 L46.1,280.5 L46.0,281.2 L45.9,281.9 L45.9,282.7 L45.8,283.4 L45.7,284.1 L45.6,284.9 L45.6,285.6 L45.5,286.4 L45.5,287.1 L45.5,287.9 L45.4,288.7 L45.4,289.5 L45.4,290.2 L45.4,291.0 L45.3,291.8 L45.3,292.6 L45.3,293.4 L45.3,294.2 L45.4,295.0 L45.4,295.8 L45.4,296.6 L45.4,297.4 L45.5,298.2 L45.5,299.0 L45.5,299.8 L45.6,300.6 L45.6,301.4 L45.7,302.2 L45.7,302.9 L45.8,303.7 L45.9,304.5 L45.9,305.2 L46.0,306.0 L48.2,304.5 L48.1,303.8 L48.1,303.0 L49.2,301.6 L52.4,299.1 L54.6,297.2 L52.4,297.8 L49.1,298.8 L48.0,298.6 L47.8,297.9 L47.8,297.2 L47.8,296.4 L47.9,295.6 L49.1,294.4 L52.7,292.5 L55.2,291.0 L52.8,291.2 L49.2,291.6 L48.0,291.2 L47.9,290.5 L47.9,289.7 L48.0,289.0 L48.1,288.2 L49.5,287.3 L53.5,286.2 L56.2,285.3 L53.6,285.0 L49.7,284.6 L48.4,284.0 L48.4,283.4 L48.5,282.7 L48.5,282.0 L48.7,281.4 L49.9,280.8 L53.1,280.5 L55.3,280.2 L53.3,279.4 L50.3,278.4 L49.4,277.7 L49.4,277.1 L49.5,276.5 L49.8,275.6 L50.2,274.7 L51.3,274.0 L54.1,274.0 L56.1,273.9 L54.8,272.5 L52.9,270.7 L52.5,269.5 L53.0,268.7 L53.5,268.0 L54.0,267.2 L54.7,266.6 L56.1,266.4 L58.8,267.4 L60.9,268.0 L60.0,266.3 L58.6,264.0 L58.6,262.9 L59.3,262.3 L60.1,261.7 L60.9,261.3 L61.7,260.9 L63.2,261.3 L65.9,263.4 L67.8,264.8 L67.4,262.8 L66.6,259.9 L67.0,258.6 L67.9,258.3 L68.8,258.0 L69.8,257.8 L70.8,257.6 L72.1,258.3 L73.7,260.7 L75.0,262.3 L75.5,260.5 L76.0,257.9 L76.9,256.9 L78.0,256.8 L79.1,256.8Z" fill="#e4ac9e"/>
<path d="M79.5,253 L79.5,272 M77.5,258 L81.5,258 M77.5,263 L81.5,263 M77.5,268 L81.5,268" stroke="#5a1810" stroke-width="1"/>
<path d="M71.5,275.5 C75,274 78.5,278 79.5,284 C80.5,278 84,274 88,275.5 C84.5,277 82,280 81,288 L78,288 C77,280 75,277 71.5,275.5Z" fill="#5a1810"/>
<path d="M73,293 C77,291 83,291 87,293 L88,297 L72,297Z" fill="#5a1810"/>
<path d="M89,292 C92,289 99,289 101,292 C100,296 97,297 94,296 C92,297 90,296 89,292Z" fill="#5a1810"/>
<g clip-path="url(#clipAcute)"><use href="#brainG" transform="translate(-37.4 242.4) scale(0.468 0.482)"/></g>
<circle cx="122.7" cy="380.5" r="17" fill="url(#glow)"/>
<circle cx="122.7" cy="380.5" r="7.5" fill="#b00c26" opacity="0.75"/>
<g clip-path="url(#clipStroke)">
<circle cx="219" cy="446.5" r="30" fill="url(#strokeglow)"/>
<path d="M202.4,398 L237,396 C238,410 241,425 242.2,436 C243,455 242.5,475 242.2,498 L208,498 C208,475 208,455 207,436 C205.5,420 204,410 202.4,398Z" fill="#c8423e"/>
<path d="M202.4,398 L205,398 C206.5,410 208,420 209.5,436 C210.5,455 210.5,475 210.5,498 L208,498 C208,475 208,455 207,436 C205.5,420 204,410 202.4,398Z" fill="#9c1a26"/>
<path d="M234.5,396 L237,396 C238,410 241,425 242.2,436 C243,455 242.5,475 242.2,498 L240,498 C240,475 240.5,455 239.8,436 C238.5,425 235.5,410 234.5,396Z" fill="#a41e28"/>
<path d="M230,396 L233,396 C234,410 236.8,425 238,436 C239,455 238.5,475 238.2,498 L236,498 C236,475 236.5,455 235.5,436 C234.5,425 231.5,410 230,396Z" fill="#d65a52" opacity="0.7"/>
<circle cx="222.5" cy="446.5" r="26" fill="url(#strokeglow)"/>
</g>
<text x="263.6" y="188" font-size="12.2" fill="#141414" text-anchor="middle">Tumors</text>
<text x="201.5" y="216.7" font-size="12.2" fill="#141414" text-anchor="middle">Multiple</text>
<text x="201.5" y="231.5" font-size="12.2" fill="#141414" text-anchor="middle">sclerosis</text>
<text x="177" y="274" font-size="12.2" fill="#141414" text-anchor="middle">Degenerative</text>
<text x="177" y="288.8" font-size="12.2" fill="#141414" text-anchor="middle">diseases (e.g.,</text>
<text x="177" y="303.5" font-size="12.2" fill="#141414" text-anchor="middle">Alzheimer’s)</text>
<text x="207.4" y="344.7" font-size="12.2" fill="#141414" text-anchor="middle">Acute brain</text>
<text x="207.3" y="359.5" font-size="12.2" fill="#141414" text-anchor="middle">injury</text>
<text x="261" y="392.4" font-size="12.2" fill="#141414" text-anchor="middle">Strokes</text>
<path d="M298.4,216.5 A142,142 0 0 1 453.4,295.3 L439.8,301.7 A127,127 0 0 0 301.2,231.2Z" fill="url(#bbb)"/>
<path id="bbbtp" d="M320.5,225.8 A130.3,130.3 0 0 1 448.9,315.7" fill="none"/>
<text class="b" font-size="11.2" fill="#fff"><textPath href="#bbbtp" startOffset="18">Blood–brain barrier</textPath></text>
<path d="M550.2,152.0 L546.6,150.5 L543.0,149.2 L539.4,148.1 L535.7,147.1 L531.9,146.2 L528.1,145.4 L524.3,144.8 L520.5,144.2 L516.7,143.8 L512.8,143.5 L509.0,143.3 L505.1,143.3 L501.3,143.3 L497.4,143.5 L493.6,143.8 L489.7,144.3 L485.9,144.8 L482.1,145.5 L478.3,146.3 L474.6,147.3 L470.8,148.4 L467.2,149.6 L463.5,150.9 L459.9,152.4 L456.4,154.1 L452.9,155.8 L449.4,157.8 L446.1,159.8 L442.8,162.0 L439.5,164.4 L436.4,166.9 L433.3,169.6 L430.3,172.4 L427.4,175.4 L424.6,178.5 L421.9,181.8 L419.3,185.2 L416.8,188.8 L414.4,192.5 L412.1,196.4 L421.9,201.6 L423.8,198.0 L425.8,194.5 L427.9,191.2 L430.1,188.0 L432.4,185.0 L434.8,182.0 L437.3,179.3 L439.9,176.6 L442.6,174.1 L445.3,171.7 L448.1,169.4 L451.1,167.2 L454.0,165.2 L457.1,163.3 L460.2,161.5 L463.4,159.8 L466.6,158.3 L469.9,156.9 L473.3,155.5 L476.7,154.3 L480.1,153.3 L483.6,152.3 L487.2,151.4 L490.7,150.7 L494.3,150.1 L498.0,149.6 L501.6,149.2 L505.3,148.9 L509.0,148.7 L512.7,148.6 L516.4,148.6 L520.1,148.7 L523.9,149.0 L527.6,149.3 L531.3,149.7 L535.0,150.2 L538.7,150.9 L542.4,151.5 L546.1,152.3 L549.8,153.0Z" fill="url(#arr1)"/>
<path d="M399.3,227.5 L404.3,193 L412,197.5 L421,203.5 L429.4,208.5Z" fill="#f0d850"/>
<text x="470.2" y="166.8" font-size="36" class="b" fill="#e42c3a" stroke="#e42c3a" stroke-width="1.4" text-anchor="middle" transform="translate(470.2 0) scale(0.93 1) translate(-470.2 0)">X</text>
<path d="M552.2,154 L552.2,134 A9.7,9.7 0 0 1 571.6,134 L571.6,154Z" fill="url(#pillw)"/>
<path d="M552.2,153.5 L552.2,174.8 A9.7,9.7 0 0 0 571.6,174.8 L571.6,153.5Z" fill="url(#pillr)"/>
<text x="496.3" y="187.8" class="b" font-size="15" fill="#8e1414" text-anchor="middle">Prevents</text>
<text x="496.3" y="206.2" class="b" font-size="15" fill="#8e1414" text-anchor="middle">transport of</text>
<text x="496.3" y="224.6" class="b" font-size="15" fill="#8e1414" text-anchor="middle">drugs</text>
<text x="413.5" y="418.5" class="b" font-size="15" fill="#8e1414" text-anchor="middle">Allows passage of</text>
<text x="413.5" y="436" class="b" font-size="15" fill="#8e1414" text-anchor="middle">biomimetic nano delivery</text>
<text x="413.5" y="453.7" class="b" font-size="15" fill="#8e1414" text-anchor="middle">systems (BNDS)</text>
<path d="M498.6,352.7 L495.4,356.2 L492.2,359.6 L488.9,362.7 L485.4,365.7 L481.9,368.5 L478.2,371.1 L474.5,373.5 L470.7,375.6 L466.8,377.6 L462.8,379.4 L458.8,381.0 L454.7,382.4 L450.6,383.6 L446.4,384.7 L442.3,385.5 L438.1,386.2 L433.9,386.6 L429.8,386.9 L425.7,387.0 L421.6,386.9 L417.5,386.6 L413.6,386.2 L409.7,385.6 L405.8,384.8 L402.1,383.8 L398.5,382.6 L395.0,381.3 L391.6,379.8 L388.4,378.2 L385.3,376.4 L382.4,374.4 L379.6,372.3 L377.0,370.0 L374.6,367.6 L372.4,365.1 L370.4,362.4 L368.6,359.6 L367.0,356.6 L365.6,353.4 L364.4,350.1 L353.6,353.9 L355.2,357.9 L357.1,361.7 L359.3,365.4 L361.7,368.8 L364.3,372.0 L367.2,375.0 L370.2,377.7 L373.4,380.3 L376.8,382.6 L380.4,384.7 L384.1,386.7 L387.9,388.4 L391.8,389.9 L395.8,391.1 L399.9,392.2 L404.1,393.1 L408.4,393.8 L412.7,394.3 L417.0,394.5 L421.4,394.6 L425.9,394.5 L430.3,394.1 L434.7,393.6 L439.2,392.9 L443.6,391.9 L448.0,390.8 L452.3,389.4 L456.6,387.9 L460.9,386.2 L465.0,384.2 L469.1,382.0 L473.0,379.7 L476.9,377.1 L480.6,374.4 L484.2,371.4 L487.7,368.2 L490.9,364.8 L494.0,361.2 L496.9,357.4 L499.4,353.3Z" fill="url(#arr2)"/>
<path d="M347.8,319.8 L374.1,348.2 L366,350 L353,355 L345.7,359Z" fill="#f0d850"/>
<circle cx="537.2" cy="314.8" r="69" fill="#f4e468"/>
<line x1="595.2" y1="316.3" x2="603.7" y2="316.5" stroke="#fbf6c8" stroke-width="0.9"/>
<line x1="595.0" y1="319.4" x2="603.5" y2="320.0" stroke="#fbf6c8" stroke-width="0.9"/>
<line x1="594.7" y1="322.4" x2="603.1" y2="323.5" stroke="#fbf6c8" stroke-width="0.9"/>
<line x1="594.2" y1="325.4" x2="602.6" y2="326.9" stroke="#fbf6c8" stroke-width="0.9"/>
<line x1="593.6" y1="328.3" x2="601.9" y2="330.3" stroke="#fbf6c8" stroke-width="0.9"/>
<line x1="592.8" y1="331.3" x2="601.0" y2="333.7" stroke="#fbf6c8" stroke-width="0.9"/>
<line x1="591.9" y1="334.2" x2="599.9" y2="337.0" stroke="#fbf6c8" stroke-width="0.9"/>
<line x1="590.8" y1="337.0" x2="598.6" y2="340.2" stroke="#fbf6c8" stroke-width="0.9"/>
<line x1="589.5" y1="339.8" x2="597.2" y2="343.4" stroke="#fbf6c8" stroke-width="0.9"/>
<line x1="588.2" y1="342.5" x2="595.6" y2="346.5" stroke="#fbf6c8" stroke-width="0.9"/>
<line x1="586.7" y1="345.1" x2="593.9" y2="349.5" stroke="#fbf6c8" stroke-width="0.9"/>
<line x1="585.0" y1="347.7" x2="592.0" y2="352.5" stroke="#fbf6c8" stroke-width="0.9"/>
<line x1="583.2" y1="350.1" x2="590.0" y2="355.3" stroke="#fbf6c8" stroke-width="0.9"/>
<line x1="581.3" y1="352.5" x2="587.8" y2="358.0" stroke="#fbf6c8" stroke-width="0.9"/>
<line x1="579.3" y1="354.7" x2="585.4" y2="360.6" stroke="#fbf6c8" stroke-width="0.9"/>
<line x1="577.1" y1="356.9" x2="583.0" y2="363.0" stroke="#fbf6c8" stroke-width="0.9"/>
<line x1="574.9" y1="358.9" x2="580.4" y2="365.4" stroke="#fbf6c8" stroke-width="0.9"/>
<line x1="572.5" y1="360.8" x2="577.7" y2="367.6" stroke="#fbf6c8" stroke-width="0.9"/>
<line x1="570.1" y1="362.6" x2="574.9" y2="369.6" stroke="#fbf6c8" stroke-width="0.9"/>
<line x1="567.5" y1="364.3" x2="571.9" y2="371.5" stroke="#fbf6c8" stroke-width="0.9"/>
<line x1="564.9" y1="365.8" x2="568.9" y2="373.2" stroke="#fbf6c8" stroke-width="0.9"/>
<line x1="562.2" y1="367.1" x2="565.8" y2="374.8" stroke="#fbf6c8" stroke-width="0.9"/>
<line x1="559.4" y1="368.4" x2="562.6" y2="376.2" stroke="#fbf6c8" stroke-width="0.9"/>
<line x1="556.6" y1="369.5" x2="559.4" y2="377.5" stroke="#fbf6c8" stroke-width="0.9"/>
<line x1="553.7" y1="370.4" x2="556.1" y2="378.6" stroke="#fbf6c8" stroke-width="0.9"/>
<line x1="550.7" y1="371.2" x2="552.7" y2="379.5" stroke="#fbf6c8" stroke-width="0.9"/>
<line x1="547.8" y1="371.8" x2="549.3" y2="380.2" stroke="#fbf6c8" stroke-width="0.9"/>
<line x1="544.8" y1="372.3" x2="545.9" y2="380.7" stroke="#fbf6c8" stroke-width="0.9"/>
<line x1="541.8" y1="372.6" x2="542.4" y2="381.1" stroke="#fbf6c8" stroke-width="0.9"/>
<line x1="538.7" y1="372.8" x2="538.9" y2="381.3" stroke="#fbf6c8" stroke-width="0.9"/>
<line x1="535.7" y1="372.8" x2="535.5" y2="381.3" stroke="#fbf6c8" stroke-width="0.9"/>
<line x1="532.6" y1="372.6" x2="532.0" y2="381.1" stroke="#fbf6c8" stroke-width="0.9"/>
<line x1="529.6" y1="372.3" x2="528.5" y2="380.7" stroke="#fbf6c8" stroke-width="0.9"/>
<line x1="526.6" y1="371.8" x2="525.1" y2="380.2" stroke="#fbf6c8" stroke-width="0.9"/>
<line x1="523.7" y1="371.2" x2="521.7" y2="379.5" stroke="#fbf6c8" stroke-width="0.9"/>
<line x1="520.7" y1="370.4" x2="518.3" y2="378.6" stroke="#fbf6c8" stroke-width="0.9"/>
<line x1="517.8" y1="369.5" x2="515.0" y2="377.5" stroke="#fbf6c8" stroke-width="0.9"/>
<line x1="515.0" y1="368.4" x2="511.8" y2="376.2" stroke="#fbf6c8" stroke-width="0.9"/>
<line x1="512.2" y1="367.1" x2="508.6" y2="374.8" stroke="#fbf6c8" stroke-width="0.9"/>
<line x1="509.5" y1="365.8" x2="505.5" y2="373.2" stroke="#fbf6c8" stroke-width="0.9"/>
<line x1="506.9" y1="364.3" x2="502.5" y2="371.5" stroke="#fbf6c8" stroke-width="0.9"/>
<line x1="504.3" y1="362.6" x2="499.5" y2="369.6" stroke="#fbf6c8" stroke-width="0.9"/>
<line x1="501.9" y1="360.8" x2="496.7" y2="367.6" stroke="#fbf6c8" stroke-width="0.9"/>
<line x1="499.5" y1="358.9" x2="494.0" y2="365.4" stroke="#fbf6c8" stroke-width="0.9"/>
<line x1="497.3" y1="356.9" x2="491.4" y2="363.0" stroke="#fbf6c8" stroke-width="0.9"/>
<line x1="495.1" y1="354.7" x2="489.0" y2="360.6" stroke="#fbf6c8" stroke-width="0.9"/>
<line x1="493.1" y1="352.5" x2="486.6" y2="358.0" stroke="#fbf6c8" stroke-width="0.9"/>
<line x1="491.2" y1="350.1" x2="484.4" y2="355.3" stroke="#fbf6c8" stroke-width="0.9"/>
<line x1="489.4" y1="347.7" x2="482.4" y2="352.5" stroke="#fbf6c8" stroke-width="0.9"/>
<line x1="487.7" y1="345.1" x2="480.5" y2="349.5" stroke="#fbf6c8" stroke-width="0.9"/>
<line x1="486.2" y1="342.5" x2="478.8" y2="346.5" stroke="#fbf6c8" stroke-width="0.9"/>
<line x1="484.9" y1="339.8" x2="477.2" y2="343.4" stroke="#fbf6c8" stroke-width="0.9"/>
<line x1="483.6" y1="337.0" x2="475.8" y2="340.2" stroke="#fbf6c8" stroke-width="0.9"/>
<line x1="482.5" y1="334.2" x2="474.5" y2="337.0" stroke="#fbf6c8" stroke-width="0.9"/>
<line x1="481.6" y1="331.3" x2="473.4" y2="333.7" stroke="#fbf6c8" stroke-width="0.9"/>
<line x1="480.8" y1="328.3" x2="472.5" y2="330.3" stroke="#fbf6c8" stroke-width="0.9"/>
<line x1="480.2" y1="325.4" x2="471.8" y2="326.9" stroke="#fbf6c8" stroke-width="0.9"/>
<line x1="479.7" y1="322.4" x2="471.3" y2="323.5" stroke="#fbf6c8" stroke-width="0.9"/>
<line x1="479.4" y1="319.4" x2="470.9" y2="320.0" stroke="#fbf6c8" stroke-width="0.9"/>
<line x1="479.2" y1="316.3" x2="470.7" y2="316.5" stroke="#fbf6c8" stroke-width="0.9"/>
<line x1="479.2" y1="313.3" x2="470.7" y2="313.1" stroke="#fbf6c8" stroke-width="0.9"/>
<line x1="479.4" y1="310.2" x2="470.9" y2="309.6" stroke="#fbf6c8" stroke-width="0.9"/>
<line x1="479.7" y1="307.2" x2="471.3" y2="306.1" stroke="#fbf6c8" stroke-width="0.9"/>
<line x1="480.2" y1="304.2" x2="471.8" y2="302.7" stroke="#fbf6c8" stroke-width="0.9"/>
<line x1="480.8" y1="301.3" x2="472.5" y2="299.3" stroke="#fbf6c8" stroke-width="0.9"/>
<line x1="481.6" y1="298.3" x2="473.4" y2="295.9" stroke="#fbf6c8" stroke-width="0.9"/>
<line x1="482.5" y1="295.4" x2="474.5" y2="292.6" stroke="#fbf6c8" stroke-width="0.9"/>
<line x1="483.6" y1="292.6" x2="475.8" y2="289.4" stroke="#fbf6c8" stroke-width="0.9"/>
<line x1="484.9" y1="289.8" x2="477.2" y2="286.2" stroke="#fbf6c8" stroke-width="0.9"/>
<line x1="486.2" y1="287.1" x2="478.8" y2="283.1" stroke="#fbf6c8" stroke-width="0.9"/>
<line x1="487.7" y1="284.5" x2="480.5" y2="280.1" stroke="#fbf6c8" stroke-width="0.9"/>
<line x1="489.4" y1="281.9" x2="482.4" y2="277.1" stroke="#fbf6c8" stroke-width="0.9"/>
<line x1="491.2" y1="279.5" x2="484.4" y2="274.3" stroke="#fbf6c8" stroke-width="0.9"/>
<line x1="493.1" y1="277.1" x2="486.6" y2="271.6" stroke="#fbf6c8" stroke-width="0.9"/>
<line x1="495.1" y1="274.9" x2="489.0" y2="269.0" stroke="#fbf6c8" stroke-width="0.9"/>
<line x1="497.3" y1="272.7" x2="491.4" y2="266.6" stroke="#fbf6c8" stroke-width="0.9"/>
<line x1="499.5" y1="270.7" x2="494.0" y2="264.2" stroke="#fbf6c8" stroke-width="0.9"/>
<line x1="501.9" y1="268.8" x2="496.7" y2="262.0" stroke="#fbf6c8" stroke-width="0.9"/>
<line x1="504.3" y1="267.0" x2="499.5" y2="260.0" stroke="#fbf6c8" stroke-width="0.9"/>
<line x1="506.9" y1="265.3" x2="502.5" y2="258.1" stroke="#fbf6c8" stroke-width="0.9"/>
<line x1="509.5" y1="263.8" x2="505.5" y2="256.4" stroke="#fbf6c8" stroke-width="0.9"/>
<line x1="512.2" y1="262.5" x2="508.6" y2="254.8" stroke="#fbf6c8" stroke-width="0.9"/>
<line x1="515.0" y1="261.2" x2="511.8" y2="253.4" stroke="#fbf6c8" stroke-width="0.9"/>
<line x1="517.8" y1="260.1" x2="515.0" y2="252.1" stroke="#fbf6c8" stroke-width="0.9"/>
<line x1="520.7" y1="259.2" x2="518.3" y2="251.0" stroke="#fbf6c8" stroke-width="0.9"/>
<line x1="523.7" y1="258.4" x2="521.7" y2="250.1" stroke="#fbf6c8" stroke-width="0.9"/>
<line x1="526.6" y1="257.8" x2="525.1" y2="249.4" stroke="#fbf6c8" stroke-width="0.9"/>
<line x1="529.6" y1="257.3" x2="528.5" y2="248.9" stroke="#fbf6c8" stroke-width="0.9"/>
<line x1="532.6" y1="257.0" x2="532.0" y2="248.5" stroke="#fbf6c8" stroke-width="0.9"/>
<line x1="535.7" y1="256.8" x2="535.5" y2="248.3" stroke="#fbf6c8" stroke-width="0.9"/>
<line x1="538.7" y1="256.8" x2="538.9" y2="248.3" stroke="#fbf6c8" stroke-width="0.9"/>
<line x1="541.8" y1="257.0" x2="542.4" y2="248.5" stroke="#fbf6c8" stroke-width="0.9"/>
<line x1="544.8" y1="257.3" x2="545.9" y2="248.9" stroke="#fbf6c8" stroke-width="0.9"/>
<line x1="547.8" y1="257.8" x2="549.3" y2="249.4" stroke="#fbf6c8" stroke-width="0.9"/>
<line x1="550.7" y1="258.4" x2="552.7" y2="250.1" stroke="#fbf6c8" stroke-width="0.9"/>
<line x1="553.7" y1="259.2" x2="556.1" y2="251.0" stroke="#fbf6c8" stroke-width="0.9"/>
<line x1="556.6" y1="260.1" x2="559.4" y2="252.1" stroke="#fbf6c8" stroke-width="0.9"/>
<line x1="559.4" y1="261.2" x2="562.6" y2="253.4" stroke="#fbf6c8" stroke-width="0.9"/>
<line x1="562.2" y1="262.5" x2="565.8" y2="254.8" stroke="#fbf6c8" stroke-width="0.9"/>
<line x1="564.9" y1="263.8" x2="568.9" y2="256.4" stroke="#fbf6c8" stroke-width="0.9"/>
<line x1="567.5" y1="265.3" x2="571.9" y2="258.1" stroke="#fbf6c8" stroke-width="0.9"/>
<line x1="570.1" y1="267.0" x2="574.9" y2="260.0" stroke="#fbf6c8" stroke-width="0.9"/>
<line x1="572.5" y1="268.8" x2="577.7" y2="262.0" stroke="#fbf6c8" stroke-width="0.9"/>
<line x1="574.9" y1="270.7" x2="580.4" y2="264.2" stroke="#fbf6c8" stroke-width="0.9"/>
<line x1="577.1" y1="272.7" x2="583.0" y2="266.6" stroke="#fbf6c8" stroke-width="0.9"/>
<line x1="579.3" y1="274.9" x2="585.4" y2="269.0" stroke="#fbf6c8" stroke-width="0.9"/>
<line x1="581.3" y1="277.1" x2="587.8" y2="271.6" stroke="#fbf6c8" stroke-width="0.9"/>
<line x1="583.2" y1="279.5" x2="590.0" y2="274.3" stroke="#fbf6c8" stroke-width="0.9"/>
<line x1="585.0" y1="281.9" x2="592.0" y2="277.1" stroke="#fbf6c8" stroke-width="0.9"/>
<line x1="586.7" y1="284.5" x2="593.9" y2="280.1" stroke="#fbf6c8" stroke-width="0.9"/>
<line x1="588.2" y1="287.1" x2="595.6" y2="283.1" stroke="#fbf6c8" stroke-width="0.9"/>
<line x1="589.5" y1="289.8" x2="597.2" y2="286.2" stroke="#fbf6c8" stroke-width="0.9"/>
<line x1="590.8" y1="292.6" x2="598.6" y2="289.4" stroke="#fbf6c8" stroke-width="0.9"/>
<line x1="591.9" y1="295.4" x2="599.9" y2="292.6" stroke="#fbf6c8" stroke-width="0.9"/>
<line x1="592.8" y1="298.3" x2="601.0" y2="295.9" stroke="#fbf6c8" stroke-width="0.9"/>
<line x1="593.6" y1="301.3" x2="601.9" y2="299.3" stroke="#fbf6c8" stroke-width="0.9"/>
<line x1="594.2" y1="304.2" x2="602.6" y2="302.7" stroke="#fbf6c8" stroke-width="0.9"/>
<line x1="594.7" y1="307.2" x2="603.1" y2="306.1" stroke="#fbf6c8" stroke-width="0.9"/>
<line x1="595.0" y1="310.2" x2="603.5" y2="309.6" stroke="#fbf6c8" stroke-width="0.9"/>
<line x1="595.2" y1="313.3" x2="603.7" y2="313.1" stroke="#fbf6c8" stroke-width="0.9"/>
<circle cx="604.8" cy="314.8" r="1.55" fill="#7c98e4" stroke="#2e4cb8" stroke-width="0.9"/>
<circle cx="604.7" cy="318.4" r="1.55" fill="#7c98e4" stroke="#2e4cb8" stroke-width="0.9"/>
<circle cx="604.4" cy="322.0" r="1.55" fill="#7c98e4" stroke="#2e4cb8" stroke-width="0.9"/>
<circle cx="603.9" cy="325.6" r="1.55" fill="#7c98e4" stroke="#2e4cb8" stroke-width="0.9"/>
<circle cx="603.3" cy="329.1" r="1.55" fill="#7c98e4" stroke="#2e4cb8" stroke-width="0.9"/>
<circle cx="602.4" cy="332.6" r="1.55" fill="#7c98e4" stroke="#2e4cb8" stroke-width="0.9"/>
<circle cx="601.4" cy="336.0" r="1.55" fill="#7c98e4" stroke="#2e4cb8" stroke-width="0.9"/>
<circle cx="600.2" cy="339.4" r="1.55" fill="#7c98e4" stroke="#2e4cb8" stroke-width="0.9"/>
<circle cx="598.8" cy="342.7" r="1.55" fill="#7c98e4" stroke="#2e4cb8" stroke-width="0.9"/>
<circle cx="597.2" cy="346.0" r="1.55" fill="#7c98e4" stroke="#2e4cb8" stroke-width="0.9"/>
<circle cx="595.4" cy="349.1" r="1.55" fill="#7c98e4" stroke="#2e4cb8" stroke-width="0.9"/>
<circle cx="593.5" cy="352.2" r="1.55" fill="#7c98e4" stroke="#2e4cb8" stroke-width="0.9"/>
<circle cx="591.5" cy="355.1" r="1.55" fill="#7c98e4" stroke="#2e4cb8" stroke-width="0.9"/>
<circle cx="589.2" cy="357.9" r="1.55" fill="#7c98e4" stroke="#2e4cb8" stroke-width="0.9"/>
<circle cx="586.9" cy="360.7" r="1.55" fill="#7c98e4" stroke="#2e4cb8" stroke-width="0.9"/>
<circle cx="584.4" cy="363.2" r="1.55" fill="#7c98e4" stroke="#2e4cb8" stroke-width="0.9"/>
<circle cx="581.7" cy="365.7" r="1.55" fill="#7c98e4" stroke="#2e4cb8" stroke-width="0.9"/>
<circle cx="578.9" cy="368.0" r="1.55" fill="#7c98e4" stroke="#2e4cb8" stroke-width="0.9"/>
<circle cx="576.1" cy="370.1" r="1.55" fill="#7c98e4" stroke="#2e4cb8" stroke-width="0.9"/>
<circle cx="573.1" cy="372.1" r="1.55" fill="#7c98e4" stroke="#2e4cb8" stroke-width="0.9"/>
<circle cx="570.0" cy="373.9" r="1.55" fill="#7c98e4" stroke="#2e4cb8" stroke-width="0.9"/>
<circle cx="566.8" cy="375.6" r="1.55" fill="#7c98e4" stroke="#2e4cb8" stroke-width="0.9"/>
<circle cx="563.5" cy="377.1" r="1.55" fill="#7c98e4" stroke="#2e4cb8" stroke-width="0.9"/>
<circle cx="560.1" cy="378.4" r="1.55" fill="#7c98e4" stroke="#2e4cb8" stroke-width="0.9"/>
<circle cx="556.7" cy="379.5" r="1.55" fill="#7c98e4" stroke="#2e4cb8" stroke-width="0.9"/>
<circle cx="553.2" cy="380.5" r="1.55" fill="#7c98e4" stroke="#2e4cb8" stroke-width="0.9"/>
<circle cx="549.7" cy="381.2" r="1.55" fill="#7c98e4" stroke="#2e4cb8" stroke-width="0.9"/>
<circle cx="546.2" cy="381.8" r="1.55" fill="#7c98e4" stroke="#2e4cb8" stroke-width="0.9"/>
<circle cx="542.6" cy="382.2" r="1.55" fill="#7c98e4" stroke="#2e4cb8" stroke-width="0.9"/>
<circle cx="539.0" cy="382.4" r="1.55" fill="#7c98e4" stroke="#2e4cb8" stroke-width="0.9"/>
<circle cx="535.4" cy="382.4" r="1.55" fill="#7c98e4" stroke="#2e4cb8" stroke-width="0.9"/>
<circle cx="531.8" cy="382.2" r="1.55" fill="#7c98e4" stroke="#2e4cb8" stroke-width="0.9"/>
<circle cx="528.2" cy="381.8" r="1.55" fill="#7c98e4" stroke="#2e4cb8" stroke-width="0.9"/>
<circle cx="524.7" cy="381.2" r="1.55" fill="#7c98e4" stroke="#2e4cb8" stroke-width="0.9"/>
<circle cx="521.2" cy="380.5" r="1.55" fill="#7c98e4" stroke="#2e4cb8" stroke-width="0.9"/>
<circle cx="517.7" cy="379.5" r="1.55" fill="#7c98e4" stroke="#2e4cb8" stroke-width="0.9"/>
<circle cx="514.3" cy="378.4" r="1.55" fill="#7c98e4" stroke="#2e4cb8" stroke-width="0.9"/>
<circle cx="510.9" cy="377.1" r="1.55" fill="#7c98e4" stroke="#2e4cb8" stroke-width="0.9"/>
<circle cx="507.6" cy="375.6" r="1.55" fill="#7c98e4" stroke="#2e4cb8" stroke-width="0.9"/>
<circle cx="504.4" cy="373.9" r="1.55" fill="#7c98e4" stroke="#2e4cb8" stroke-width="0.9"/>
<circle cx="501.3" cy="372.1" r="1.55" fill="#7c98e4" stroke="#2e4cb8" stroke-width="0.9"/>
<circle cx="498.3" cy="370.1" r="1.55" fill="#7c98e4" stroke="#2e4cb8" stroke-width="0.9"/>
<circle cx="495.5" cy="368.0" r="1.55" fill="#7c98e4" stroke="#2e4cb8" stroke-width="0.9"/>
<circle cx="492.7" cy="365.7" r="1.55" fill="#7c98e4" stroke="#2e4cb8" stroke-width="0.9"/>
<circle cx="490.0" cy="363.2" r="1.55" fill="#7c98e4" stroke="#2e4cb8" stroke-width="0.9"/>
<circle cx="487.5" cy="360.7" r="1.55" fill="#7c98e4" stroke="#2e4cb8" stroke-width="0.9"/>
<circle cx="485.2" cy="357.9" r="1.55" fill="#7c98e4" stroke="#2e4cb8" stroke-width="0.9"/>
<circle cx="482.9" cy="355.1" r="1.55" fill="#7c98e4" stroke="#2e4cb8" stroke-width="0.9"/>
<circle cx="480.9" cy="352.2" r="1.55" fill="#7c98e4" stroke="#2e4cb8" stroke-width="0.9"/>
<circle cx="479.0" cy="349.1" r="1.55" fill="#7c98e4" stroke="#2e4cb8" stroke-width="0.9"/>
<circle cx="477.2" cy="346.0" r="1.55" fill="#7c98e4" stroke="#2e4cb8" stroke-width="0.9"/>
<circle cx="475.6" cy="342.7" r="1.55" fill="#7c98e4" stroke="#2e4cb8" stroke-width="0.9"/>
<circle cx="474.2" cy="339.4" r="1.55" fill="#7c98e4" stroke="#2e4cb8" stroke-width="0.9"/>
<circle cx="473.0" cy="336.0" r="1.55" fill="#7c98e4" stroke="#2e4cb8" stroke-width="0.9"/>
<circle cx="472.0" cy="332.6" r="1.55" fill="#7c98e4" stroke="#2e4cb8" stroke-width="0.9"/>
<circle cx="471.1" cy="329.1" r="1.55" fill="#7c98e4" stroke="#2e4cb8" stroke-width="0.9"/>
<circle cx="470.5" cy="325.6" r="1.55" fill="#7c98e4" stroke="#2e4cb8" stroke-width="0.9"/>
<circle cx="470.0" cy="322.0" r="1.55" fill="#7c98e4" stroke="#2e4cb8" stroke-width="0.9"/>
<circle cx="469.7" cy="318.4" r="1.55" fill="#7c98e4" stroke="#2e4cb8" stroke-width="0.9"/>
<circle cx="469.6" cy="314.8" r="1.55" fill="#7c98e4" stroke="#2e4cb8" stroke-width="0.9"/>
<circle cx="469.7" cy="311.2" r="1.55" fill="#7c98e4" stroke="#2e4cb8" stroke-width="0.9"/>
<circle cx="470.0" cy="307.6" r="1.55" fill="#7c98e4" stroke="#2e4cb8" stroke-width="0.9"/>
<circle cx="470.5" cy="304.0" r="1.55" fill="#7c98e4" stroke="#2e4cb8" stroke-width="0.9"/>
<circle cx="471.1" cy="300.5" r="1.55" fill="#7c98e4" stroke="#2e4cb8" stroke-width="0.9"/>
<circle cx="472.0" cy="297.0" r="1.55" fill="#7c98e4" stroke="#2e4cb8" stroke-width="0.9"/>
<circle cx="473.0" cy="293.6" r="1.55" fill="#7c98e4" stroke="#2e4cb8" stroke-width="0.9"/>
<circle cx="474.2" cy="290.2" r="1.55" fill="#7c98e4" stroke="#2e4cb8" stroke-width="0.9"/>
<circle cx="475.6" cy="286.9" r="1.55" fill="#7c98e4" stroke="#2e4cb8" stroke-width="0.9"/>
<circle cx="477.2" cy="283.6" r="1.55" fill="#7c98e4" stroke="#2e4cb8" stroke-width="0.9"/>
<circle cx="479.0" cy="280.5" r="1.55" fill="#7c98e4" stroke="#2e4cb8" stroke-width="0.9"/>
<circle cx="480.9" cy="277.4" r="1.55" fill="#7c98e4" stroke="#2e4cb8" stroke-width="0.9"/>
<circle cx="482.9" cy="274.5" r="1.55" fill="#7c98e4" stroke="#2e4cb8" stroke-width="0.9"/>
<circle cx="485.2" cy="271.7" r="1.55" fill="#7c98e4" stroke="#2e4cb8" stroke-width="0.9"/>
<circle cx="487.5" cy="268.9" r="1.55" fill="#7c98e4" stroke="#2e4cb8" stroke-width="0.9"/>
<circle cx="490.0" cy="266.4" r="1.55" fill="#7c98e4" stroke="#2e4cb8" stroke-width="0.9"/>
<circle cx="492.7" cy="263.9" r="1.55" fill="#7c98e4" stroke="#2e4cb8" stroke-width="0.9"/>
<circle cx="495.5" cy="261.6" r="1.55" fill="#7c98e4" stroke="#2e4cb8" stroke-width="0.9"/>
<circle cx="498.3" cy="259.5" r="1.55" fill="#7c98e4" stroke="#2e4cb8" stroke-width="0.9"/>
<circle cx="501.3" cy="257.5" r="1.55" fill="#7c98e4" stroke="#2e4cb8" stroke-width="0.9"/>
<circle cx="504.4" cy="255.7" r="1.55" fill="#7c98e4" stroke="#2e4cb8" stroke-width="0.9"/>
<circle cx="507.6" cy="254.0" r="1.55" fill="#7c98e4" stroke="#2e4cb8" stroke-width="0.9"/>
<circle cx="510.9" cy="252.5" r="1.55" fill="#7c98e4" stroke="#2e4cb8" stroke-width="0.9"/>
<circle cx="514.3" cy="251.2" r="1.55" fill="#7c98e4" stroke="#2e4cb8" stroke-width="0.9"/>
<circle cx="517.7" cy="250.1" r="1.55" fill="#7c98e4" stroke="#2e4cb8" stroke-width="0.9"/>
<circle cx="521.2" cy="249.1" r="1.55" fill="#7c98e4" stroke="#2e4cb8" stroke-width="0.9"/>
<circle cx="524.7" cy="248.4" r="1.55" fill="#7c98e4" stroke="#2e4cb8" stroke-width="0.9"/>
<circle cx="528.2" cy="247.8" r="1.55" fill="#7c98e4" stroke="#2e4cb8" stroke-width="0.9"/>
<circle cx="531.8" cy="247.4" r="1.55" fill="#7c98e4" stroke="#2e4cb8" stroke-width="0.9"/>
<circle cx="535.4" cy="247.2" r="1.55" fill="#7c98e4" stroke="#2e4cb8" stroke-width="0.9"/>
<circle cx="539.0" cy="247.2" r="1.55" fill="#7c98e4" stroke="#2e4cb8" stroke-width="0.9"/>
<circle cx="542.6" cy="247.4" r="1.55" fill="#7c98e4" stroke="#2e4cb8" stroke-width="0.9"/>
<circle cx="546.2" cy="247.8" r="1.55" fill="#7c98e4" stroke="#2e4cb8" stroke-width="0.9"/>
<circle cx="549.7" cy="248.4" r="1.55" fill="#7c98e4" stroke="#2e4cb8" stroke-width="0.9"/>
<circle cx="553.2" cy="249.1" r="1.55" fill="#7c98e4" stroke="#2e4cb8" stroke-width="0.9"/>
<circle cx="556.7" cy="250.1" r="1.55" fill="#7c98e4" stroke="#2e4cb8" stroke-width="0.9"/>
<circle cx="560.1" cy="251.2" r="1.55" fill="#7c98e4" stroke="#2e4cb8" stroke-width="0.9"/>
<circle cx="563.5" cy="252.5" r="1.55" fill="#7c98e4" stroke="#2e4cb8" stroke-width="0.9"/>
<circle cx="566.8" cy="254.0" r="1.55" fill="#7c98e4" stroke="#2e4cb8" stroke-width="0.9"/>
<circle cx="570.0" cy="255.7" r="1.55" fill="#7c98e4" stroke="#2e4cb8" stroke-width="0.9"/>
<circle cx="573.1" cy="257.5" r="1.55" fill="#7c98e4" stroke="#2e4cb8" stroke-width="0.9"/>
<circle cx="576.1" cy="259.5" r="1.55" fill="#7c98e4" stroke="#2e4cb8" stroke-width="0.9"/>
<circle cx="578.9" cy="261.6" r="1.55" fill="#7c98e4" stroke="#2e4cb8" stroke-width="0.9"/>
<circle cx="581.7" cy="263.9" r="1.55" fill="#7c98e4" stroke="#2e4cb8" stroke-width="0.9"/>
<circle cx="584.4" cy="266.4" r="1.55" fill="#7c98e4" stroke="#2e4cb8" stroke-width="0.9"/>
<circle cx="586.9" cy="268.9" r="1.55" fill="#7c98e4" stroke="#2e4cb8" stroke-width="0.9"/>
<circle cx="589.2" cy="271.7" r="1.55" fill="#7c98e4" stroke="#2e4cb8" stroke-width="0.9"/>
<circle cx="591.5" cy="274.5" r="1.55" fill="#7c98e4" stroke="#2e4cb8" stroke-width="0.9"/>
<circle cx="593.5" cy="277.4" r="1.55" fill="#7c98e4" stroke="#2e4cb8" stroke-width="0.9"/>
<circle cx="595.4" cy="280.5" r="1.55" fill="#7c98e4" stroke="#2e4cb8" stroke-width="0.9"/>
<circle cx="597.2" cy="283.6" r="1.55" fill="#7c98e4" stroke="#2e4cb8" stroke-width="0.9"/>
<circle cx="598.8" cy="286.9" r="1.55" fill="#7c98e4" stroke="#2e4cb8" stroke-width="0.9"/>
<circle cx="600.2" cy="290.2" r="1.55" fill="#7c98e4" stroke="#2e4cb8" stroke-width="0.9"/>
<circle cx="601.4" cy="293.6" r="1.55" fill="#7c98e4" stroke="#2e4cb8" stroke-width="0.9"/>
<circle cx="602.4" cy="297.0" r="1.55" fill="#7c98e4" stroke="#2e4cb8" stroke-width="0.9"/>
<circle cx="603.3" cy="300.5" r="1.55" fill="#7c98e4" stroke="#2e4cb8" stroke-width="0.9"/>
<circle cx="603.9" cy="304.0" r="1.55" fill="#7c98e4" stroke="#2e4cb8" stroke-width="0.9"/>
<circle cx="604.4" cy="307.6" r="1.55" fill="#7c98e4" stroke="#2e4cb8" stroke-width="0.9"/>
<circle cx="604.7" cy="311.2" r="1.55" fill="#7c98e4" stroke="#2e4cb8" stroke-width="0.9"/>
<circle cx="537.2" cy="314.8" r="55.6" fill="url(#bnds)"/>
<circle cx="593.4" cy="314.8" r="1.45" fill="#7c98e4" stroke="#2e4cb8" stroke-width="0.85"/>
<circle cx="593.3" cy="318.3" r="1.45" fill="#7c98e4" stroke="#2e4cb8" stroke-width="0.85"/>
<circle cx="593.0" cy="321.8" r="1.45" fill="#7c98e4" stroke="#2e4cb8" stroke-width="0.85"/>
<circle cx="592.4" cy="325.3" r="1.45" fill="#7c98e4" stroke="#2e4cb8" stroke-width="0.85"/>
<circle cx="591.6" cy="328.8" r="1.45" fill="#7c98e4" stroke="#2e4cb8" stroke-width="0.85"/>
<circle cx="590.6" cy="332.2" r="1.45" fill="#7c98e4" stroke="#2e4cb8" stroke-width="0.85"/>
<circle cx="589.5" cy="335.5" r="1.45" fill="#7c98e4" stroke="#2e4cb8" stroke-width="0.85"/>
<circle cx="588.1" cy="338.7" r="1.45" fill="#7c98e4" stroke="#2e4cb8" stroke-width="0.85"/>
<circle cx="586.4" cy="341.9" r="1.45" fill="#7c98e4" stroke="#2e4cb8" stroke-width="0.85"/>
<circle cx="584.7" cy="344.9" r="1.45" fill="#7c98e4" stroke="#2e4cb8" stroke-width="0.85"/>
<circle cx="582.7" cy="347.8" r="1.45" fill="#7c98e4" stroke="#2e4cb8" stroke-width="0.85"/>
<circle cx="580.5" cy="350.6" r="1.45" fill="#7c98e4" stroke="#2e4cb8" stroke-width="0.85"/>
<circle cx="578.2" cy="353.3" r="1.45" fill="#7c98e4" stroke="#2e4cb8" stroke-width="0.85"/>
<circle cx="575.7" cy="355.8" r="1.45" fill="#7c98e4" stroke="#2e4cb8" stroke-width="0.85"/>
<circle cx="573.0" cy="358.1" r="1.45" fill="#7c98e4" stroke="#2e4cb8" stroke-width="0.85"/>
<circle cx="570.2" cy="360.3" r="1.45" fill="#7c98e4" stroke="#2e4cb8" stroke-width="0.85"/>
<circle cx="567.3" cy="362.3" r="1.45" fill="#7c98e4" stroke="#2e4cb8" stroke-width="0.85"/>
<circle cx="564.3" cy="364.0" r="1.45" fill="#7c98e4" stroke="#2e4cb8" stroke-width="0.85"/>
<circle cx="561.1" cy="365.7" r="1.45" fill="#7c98e4" stroke="#2e4cb8" stroke-width="0.85"/>
<circle cx="557.9" cy="367.1" r="1.45" fill="#7c98e4" stroke="#2e4cb8" stroke-width="0.85"/>
<circle cx="554.6" cy="368.2" r="1.45" fill="#7c98e4" stroke="#2e4cb8" stroke-width="0.85"/>
<circle cx="551.2" cy="369.2" r="1.45" fill="#7c98e4" stroke="#2e4cb8" stroke-width="0.85"/>
<circle cx="547.7" cy="370.0" r="1.45" fill="#7c98e4" stroke="#2e4cb8" stroke-width="0.85"/>
<circle cx="544.2" cy="370.6" r="1.45" fill="#7c98e4" stroke="#2e4cb8" stroke-width="0.85"/>
<circle cx="540.7" cy="370.9" r="1.45" fill="#7c98e4" stroke="#2e4cb8" stroke-width="0.85"/>
<circle cx="537.2" cy="371.0" r="1.45" fill="#7c98e4" stroke="#2e4cb8" stroke-width="0.85"/>
<circle cx="533.7" cy="370.9" r="1.45" fill="#7c98e4" stroke="#2e4cb8" stroke-width="0.85"/>
<circle cx="530.2" cy="370.6" r="1.45" fill="#7c98e4" stroke="#2e4cb8" stroke-width="0.85"/>
<circle cx="526.7" cy="370.0" r="1.45" fill="#7c98e4" stroke="#2e4cb8" stroke-width="0.85"/>
<circle cx="523.2" cy="369.2" r="1.45" fill="#7c98e4" stroke="#2e4cb8" stroke-width="0.85"/>
<circle cx="519.8" cy="368.2" r="1.45" fill="#7c98e4" stroke="#2e4cb8" stroke-width="0.85"/>
<circle cx="516.5" cy="367.1" r="1.45" fill="#7c98e4" stroke="#2e4cb8" stroke-width="0.85"/>
<circle cx="513.3" cy="365.7" r="1.45" fill="#7c98e4" stroke="#2e4cb8" stroke-width="0.85"/>
<circle cx="510.1" cy="364.0" r="1.45" fill="#7c98e4" stroke="#2e4cb8" stroke-width="0.85"/>
<circle cx="507.1" cy="362.3" r="1.45" fill="#7c98e4" stroke="#2e4cb8" stroke-width="0.85"/>
<circle cx="504.2" cy="360.3" r="1.45" fill="#7c98e4" stroke="#2e4cb8" stroke-width="0.85"/>
<circle cx="501.4" cy="358.1" r="1.45" fill="#7c98e4" stroke="#2e4cb8" stroke-width="0.85"/>
<circle cx="498.7" cy="355.8" r="1.45" fill="#7c98e4" stroke="#2e4cb8" stroke-width="0.85"/>
<circle cx="496.2" cy="353.3" r="1.45" fill="#7c98e4" stroke="#2e4cb8" stroke-width="0.85"/>
<circle cx="493.9" cy="350.6" r="1.45" fill="#7c98e4" stroke="#2e4cb8" stroke-width="0.85"/>
<circle cx="491.7" cy="347.8" r="1.45" fill="#7c98e4" stroke="#2e4cb8" stroke-width="0.85"/>
<circle cx="489.7" cy="344.9" r="1.45" fill="#7c98e4" stroke="#2e4cb8" stroke-width="0.85"/>
<circle cx="488.0" cy="341.9" r="1.45" fill="#7c98e4" stroke="#2e4cb8" stroke-width="0.85"/>
<circle cx="486.3" cy="338.7" r="1.45" fill="#7c98e4" stroke="#2e4cb8" stroke-width="0.85"/>
<circle cx="484.9" cy="335.5" r="1.45" fill="#7c98e4" stroke="#2e4cb8" stroke-width="0.85"/>
<circle cx="483.8" cy="332.2" r="1.45" fill="#7c98e4" stroke="#2e4cb8" stroke-width="0.85"/>
<circle cx="482.8" cy="328.8" r="1.45" fill="#7c98e4" stroke="#2e4cb8" stroke-width="0.85"/>
<circle cx="482.0" cy="325.3" r="1.45" fill="#7c98e4" stroke="#2e4cb8" stroke-width="0.85"/>
<circle cx="481.4" cy="321.8" r="1.45" fill="#7c98e4" stroke="#2e4cb8" stroke-width="0.85"/>
<circle cx="481.1" cy="318.3" r="1.45" fill="#7c98e4" stroke="#2e4cb8" stroke-width="0.85"/>
<circle cx="481.0" cy="314.8" r="1.45" fill="#7c98e4" stroke="#2e4cb8" stroke-width="0.85"/>
<circle cx="481.1" cy="311.3" r="1.45" fill="#7c98e4" stroke="#2e4cb8" stroke-width="0.85"/>
<circle cx="481.4" cy="307.8" r="1.45" fill="#7c98e4" stroke="#2e4cb8" stroke-width="0.85"/>
<circle cx="482.0" cy="304.3" r="1.45" fill="#7c98e4" stroke="#2e4cb8" stroke-width="0.85"/>
<circle cx="482.8" cy="300.8" r="1.45" fill="#7c98e4" stroke="#2e4cb8" stroke-width="0.85"/>
<circle cx="483.8" cy="297.4" r="1.45" fill="#7c98e4" stroke="#2e4cb8" stroke-width="0.85"/>
<circle cx="484.9" cy="294.1" r="1.45" fill="#7c98e4" stroke="#2e4cb8" stroke-width="0.85"/>
<circle cx="486.3" cy="290.9" r="1.45" fill="#7c98e4" stroke="#2e4cb8" stroke-width="0.85"/>
<circle cx="488.0" cy="287.7" r="1.45" fill="#7c98e4" stroke="#2e4cb8" stroke-width="0.85"/>
<circle cx="489.7" cy="284.7" r="1.45" fill="#7c98e4" stroke="#2e4cb8" stroke-width="0.85"/>
<circle cx="491.7" cy="281.8" r="1.45" fill="#7c98e4" stroke="#2e4cb8" stroke-width="0.85"/>
<circle cx="493.9" cy="279.0" r="1.45" fill="#7c98e4" stroke="#2e4cb8" stroke-width="0.85"/>
<circle cx="496.2" cy="276.3" r="1.45" fill="#7c98e4" stroke="#2e4cb8" stroke-width="0.85"/>
<circle cx="498.7" cy="273.8" r="1.45" fill="#7c98e4" stroke="#2e4cb8" stroke-width="0.85"/>
<circle cx="501.4" cy="271.5" r="1.45" fill="#7c98e4" stroke="#2e4cb8" stroke-width="0.85"/>
<circle cx="504.2" cy="269.3" r="1.45" fill="#7c98e4" stroke="#2e4cb8" stroke-width="0.85"/>
<circle cx="507.1" cy="267.3" r="1.45" fill="#7c98e4" stroke="#2e4cb8" stroke-width="0.85"/>
<circle cx="510.1" cy="265.6" r="1.45" fill="#7c98e4" stroke="#2e4cb8" stroke-width="0.85"/>
<circle cx="513.3" cy="263.9" r="1.45" fill="#7c98e4" stroke="#2e4cb8" stroke-width="0.85"/>
<circle cx="516.5" cy="262.5" r="1.45" fill="#7c98e4" stroke="#2e4cb8" stroke-width="0.85"/>
<circle cx="519.8" cy="261.4" r="1.45" fill="#7c98e4" stroke="#2e4cb8" stroke-width="0.85"/>
<circle cx="523.2" cy="260.4" r="1.45" fill="#7c98e4" stroke="#2e4cb8" stroke-width="0.85"/>
<circle cx="526.7" cy="259.6" r="1.45" fill="#7c98e4" stroke="#2e4cb8" stroke-width="0.85"/>
<circle cx="530.2" cy="259.0" r="1.45" fill="#7c98e4" stroke="#2e4cb8" stroke-width="0.85"/>
<circle cx="533.7" cy="258.7" r="1.45" fill="#7c98e4" stroke="#2e4cb8" stroke-width="0.85"/>
<circle cx="537.2" cy="258.6" r="1.45" fill="#7c98e4" stroke="#2e4cb8" stroke-width="0.85"/>
<circle cx="540.7" cy="258.7" r="1.45" fill="#7c98e4" stroke="#2e4cb8" stroke-width="0.85"/>
<circle cx="544.2" cy="259.0" r="1.45" fill="#7c98e4" stroke="#2e4cb8" stroke-width="0.85"/>
<circle cx="547.7" cy="259.6" r="1.45" fill="#7c98e4" stroke="#2e4cb8" stroke-width="0.85"/>
<circle cx="551.2" cy="260.4" r="1.45" fill="#7c98e4" stroke="#2e4cb8" stroke-width="0.85"/>
<circle cx="554.6" cy="261.4" r="1.45" fill="#7c98e4" stroke="#2e4cb8" stroke-width="0.85"/>
<circle cx="557.9" cy="262.5" r="1.45" fill="#7c98e4" stroke="#2e4cb8" stroke-width="0.85"/>
<circle cx="561.1" cy="263.9" r="1.45" fill="#7c98e4" stroke="#2e4cb8" stroke-width="0.85"/>
<circle cx="564.3" cy="265.6" r="1.45" fill="#7c98e4" stroke="#2e4cb8" stroke-width="0.85"/>
<circle cx="567.3" cy="267.3" r="1.45" fill="#7c98e4" stroke="#2e4cb8" stroke-width="0.85"/>
<circle cx="570.2" cy="269.3" r="1.45" fill="#7c98e4" stroke="#2e4cb8" stroke-width="0.85"/>
<circle cx="573.0" cy="271.5" r="1.45" fill="#7c98e4" stroke="#2e4cb8" stroke-width="0.85"/>
<circle cx="575.7" cy="273.8" r="1.45" fill="#7c98e4" stroke="#2e4cb8" stroke-width="0.85"/>
<circle cx="578.2" cy="276.3" r="1.45" fill="#7c98e4" stroke="#2e4cb8" stroke-width="0.85"/>
<circle cx="580.5" cy="279.0" r="1.45" fill="#7c98e4" stroke="#2e4cb8" stroke-width="0.85"/>
<circle cx="582.7" cy="281.8" r="1.45" fill="#7c98e4" stroke="#2e4cb8" stroke-width="0.85"/>
<circle cx="584.7" cy="284.7" r="1.45" fill="#7c98e4" stroke="#2e4cb8" stroke-width="0.85"/>
<circle cx="586.4" cy="287.7" r="1.45" fill="#7c98e4" stroke="#2e4cb8" stroke-width="0.85"/>
<circle cx="588.1" cy="290.9" r="1.45" fill="#7c98e4" stroke="#2e4cb8" stroke-width="0.85"/>
<circle cx="589.5" cy="294.1" r="1.45" fill="#7c98e4" stroke="#2e4cb8" stroke-width="0.85"/>
<circle cx="590.6" cy="297.4" r="1.45" fill="#7c98e4" stroke="#2e4cb8" stroke-width="0.85"/>
<circle cx="591.6" cy="300.8" r="1.45" fill="#7c98e4" stroke="#2e4cb8" stroke-width="0.85"/>
<circle cx="592.4" cy="304.3" r="1.45" fill="#7c98e4" stroke="#2e4cb8" stroke-width="0.85"/>
<circle cx="593.0" cy="307.8" r="1.45" fill="#7c98e4" stroke="#2e4cb8" stroke-width="0.85"/>
<circle cx="593.3" cy="311.3" r="1.45" fill="#7c98e4" stroke="#2e4cb8" stroke-width="0.85"/>
<circle cx="520.5" cy="286" r="7.4" fill="url(#pdot)"/>
<circle cx="553.1" cy="282" r="7.4" fill="url(#pdot)"/>
<circle cx="502.7" cy="310" r="7.4" fill="url(#pdot)"/>
<circle cx="537" cy="314" r="7.4" fill="url(#pdot)"/>
<circle cx="567.9" cy="312.3" r="7.4" fill="url(#pdot)"/>
<circle cx="520.5" cy="345.2" r="7.4" fill="url(#pdot)"/>
<circle cx="558.5" cy="342.5" r="7.4" fill="url(#pdot)"/>
<text x="536.6" y="404.7" class="b" font-size="13" fill="#111" text-anchor="middle">BNDS</text>
<linearGradient id="cone1" gradientUnits="userSpaceOnUse" x1="690" y1="205" x2="750" y2="160"><stop offset="0" stop-color="#e496a0"/><stop offset="1" stop-color="#f5d4d8"/></linearGradient>
<path d="M661.5,212.7 L785.2,183.8 L775.3,141.4 L741.5,114.0Z" fill="url(#cone1)"/>
<circle cx="775.3" cy="141.4" r="43.5" fill="#f38b7e" stroke="#fff" stroke-width="1.2"/>
<circle cx="775.3" cy="141.4" r="30.8" fill="#a83838"/>
<circle cx="775.3" cy="141.4" r="29.8" fill="#f8dcaa"/>
<line x1="800.5" y1="141.4" x2="804.9" y2="141.4" stroke="#e4aa64" stroke-width="0.8"/>
<line x1="800.4" y1="143.9" x2="804.8" y2="144.3" stroke="#e4aa64" stroke-width="0.8"/>
<line x1="800.0" y1="146.3" x2="804.3" y2="147.2" stroke="#e4aa64" stroke-width="0.8"/>
<line x1="799.4" y1="148.7" x2="803.6" y2="150.0" stroke="#e4aa64" stroke-width="0.8"/>
<line x1="798.6" y1="151.0" x2="802.6" y2="152.7" stroke="#e4aa64" stroke-width="0.8"/>
<line x1="797.5" y1="153.3" x2="801.4" y2="155.4" stroke="#e4aa64" stroke-width="0.8"/>
<line x1="796.3" y1="155.4" x2="799.9" y2="157.8" stroke="#e4aa64" stroke-width="0.8"/>
<line x1="794.8" y1="157.4" x2="798.2" y2="160.2" stroke="#e4aa64" stroke-width="0.8"/>
<line x1="793.1" y1="159.2" x2="796.2" y2="162.3" stroke="#e4aa64" stroke-width="0.8"/>
<line x1="791.3" y1="160.9" x2="794.1" y2="164.3" stroke="#e4aa64" stroke-width="0.8"/>
<line x1="789.3" y1="162.4" x2="791.7" y2="166.0" stroke="#e4aa64" stroke-width="0.8"/>
<line x1="787.2" y1="163.6" x2="789.3" y2="167.5" stroke="#e4aa64" stroke-width="0.8"/>
<line x1="784.9" y1="164.7" x2="786.6" y2="168.7" stroke="#e4aa64" stroke-width="0.8"/>
<line x1="782.6" y1="165.5" x2="783.9" y2="169.7" stroke="#e4aa64" stroke-width="0.8"/>
<line x1="780.2" y1="166.1" x2="781.1" y2="170.4" stroke="#e4aa64" stroke-width="0.8"/>
<line x1="777.8" y1="166.5" x2="778.2" y2="170.9" stroke="#e4aa64" stroke-width="0.8"/>
<line x1="775.3" y1="166.6" x2="775.3" y2="171.0" stroke="#e4aa64" stroke-width="0.8"/>
<line x1="772.8" y1="166.5" x2="772.4" y2="170.9" stroke="#e4aa64" stroke-width="0.8"/>
<line x1="770.4" y1="166.1" x2="769.5" y2="170.4" stroke="#e4aa64" stroke-width="0.8"/>
<line x1="768.0" y1="165.5" x2="766.7" y2="169.7" stroke="#e4aa64" stroke-width="0.8"/>
<line x1="765.7" y1="164.7" x2="764.0" y2="168.7" stroke="#e4aa64" stroke-width="0.8"/>
<line x1="763.4" y1="163.6" x2="761.3" y2="167.5" stroke="#e4aa64" stroke-width="0.8"/>
<line x1="761.3" y1="162.4" x2="758.9" y2="166.0" stroke="#e4aa64" stroke-width="0.8"/>
<line x1="759.3" y1="160.9" x2="756.5" y2="164.3" stroke="#e4aa64" stroke-width="0.8"/>
<line x1="757.5" y1="159.2" x2="754.4" y2="162.3" stroke="#e4aa64" stroke-width="0.8"/>
<line x1="755.8" y1="157.4" x2="752.4" y2="160.2" stroke="#e4aa64" stroke-width="0.8"/>
<line x1="754.3" y1="155.4" x2="750.7" y2="157.8" stroke="#e4aa64" stroke-width="0.8"/>
<line x1="753.1" y1="153.3" x2="749.2" y2="155.4" stroke="#e4aa64" stroke-width="0.8"/>
<line x1="752.0" y1="151.0" x2="748.0" y2="152.7" stroke="#e4aa64" stroke-width="0.8"/>
<line x1="751.2" y1="148.7" x2="747.0" y2="150.0" stroke="#e4aa64" stroke-width="0.8"/>
<line x1="750.6" y1="146.3" x2="746.3" y2="147.2" stroke="#e4aa64" stroke-width="0.8"/>
<line x1="750.2" y1="143.9" x2="745.8" y2="144.3" stroke="#e4aa64" stroke-width="0.8"/>
<line x1="750.1" y1="141.4" x2="745.7" y2="141.4" stroke="#e4aa64" stroke-width="0.8"/>
<line x1="750.2" y1="138.9" x2="745.8" y2="138.5" stroke="#e4aa64" stroke-width="0.8"/>
<line x1="750.6" y1="136.5" x2="746.3" y2="135.6" stroke="#e4aa64" stroke-width="0.8"/>
<line x1="751.2" y1="134.1" x2="747.0" y2="132.8" stroke="#e4aa64" stroke-width="0.8"/>
<line x1="752.0" y1="131.8" x2="748.0" y2="130.1" stroke="#e4aa64" stroke-width="0.8"/>
<line x1="753.1" y1="129.5" x2="749.2" y2="127.4" stroke="#e4aa64" stroke-width="0.8"/>
<line x1="754.3" y1="127.4" x2="750.7" y2="125.0" stroke="#e4aa64" stroke-width="0.8"/>
<line x1="755.8" y1="125.4" x2="752.4" y2="122.6" stroke="#e4aa64" stroke-width="0.8"/>
<line x1="757.5" y1="123.6" x2="754.4" y2="120.5" stroke="#e4aa64" stroke-width="0.8"/>
<line x1="759.3" y1="121.9" x2="756.5" y2="118.5" stroke="#e4aa64" stroke-width="0.8"/>
<line x1="761.3" y1="120.4" x2="758.9" y2="116.8" stroke="#e4aa64" stroke-width="0.8"/>
<line x1="763.4" y1="119.2" x2="761.3" y2="115.3" stroke="#e4aa64" stroke-width="0.8"/>
<line x1="765.7" y1="118.1" x2="764.0" y2="114.1" stroke="#e4aa64" stroke-width="0.8"/>
<line x1="768.0" y1="117.3" x2="766.7" y2="113.1" stroke="#e4aa64" stroke-width="0.8"/>
<line x1="770.4" y1="116.7" x2="769.5" y2="112.4" stroke="#e4aa64" stroke-width="0.8"/>
<line x1="772.8" y1="116.3" x2="772.4" y2="111.9" stroke="#e4aa64" stroke-width="0.8"/>
<line x1="775.3" y1="116.2" x2="775.3" y2="111.8" stroke="#e4aa64" stroke-width="0.8"/>
<line x1="777.8" y1="116.3" x2="778.2" y2="111.9" stroke="#e4aa64" stroke-width="0.8"/>
<line x1="780.2" y1="116.7" x2="781.1" y2="112.4" stroke="#e4aa64" stroke-width="0.8"/>
<line x1="782.6" y1="117.3" x2="783.9" y2="113.1" stroke="#e4aa64" stroke-width="0.8"/>
<line x1="784.9" y1="118.1" x2="786.6" y2="114.1" stroke="#e4aa64" stroke-width="0.8"/>
<line x1="787.2" y1="119.2" x2="789.3" y2="115.3" stroke="#e4aa64" stroke-width="0.8"/>
<line x1="789.3" y1="120.4" x2="791.7" y2="116.8" stroke="#e4aa64" stroke-width="0.8"/>
<line x1="791.3" y1="121.9" x2="794.1" y2="118.5" stroke="#e4aa64" stroke-width="0.8"/>
<line x1="793.1" y1="123.6" x2="796.2" y2="120.5" stroke="#e4aa64" stroke-width="0.8"/>
<line x1="794.8" y1="125.4" x2="798.2" y2="122.6" stroke="#e4aa64" stroke-width="0.8"/>
<line x1="796.3" y1="127.4" x2="799.9" y2="125.0" stroke="#e4aa64" stroke-width="0.8"/>
<line x1="797.5" y1="129.5" x2="801.4" y2="127.4" stroke="#e4aa64" stroke-width="0.8"/>
<line x1="798.6" y1="131.8" x2="802.6" y2="130.1" stroke="#e4aa64" stroke-width="0.8"/>
<line x1="799.4" y1="134.1" x2="803.6" y2="132.8" stroke="#e4aa64" stroke-width="0.8"/>
<line x1="800.0" y1="136.5" x2="804.3" y2="135.6" stroke="#e4aa64" stroke-width="0.8"/>
<line x1="800.4" y1="138.9" x2="804.8" y2="138.5" stroke="#e4aa64" stroke-width="0.8"/>
<circle cx="775.3" cy="141.4" r="25.2" fill="none" stroke="#a83838" stroke-width="0.9"/>
<circle cx="775.3" cy="141" r="24.2" fill="url(#ysph)"/>
<path d="M758,130 C762,118 778,114 788,122 C790,128 784,130 780,134 C778,140 770,144 764,142 C758,140 756,136 758,130Z" fill="#fff8d4" opacity="0.85"/>
<path d="M768,158 C778,160 790,154 794,144 C796,152 788,162 778,163 C772,163 769,161 768,158Z" fill="#f2c020" opacity="0.8"/>
<line x1="774.3" y1="112.9" x2="774.0" y2="103.9" stroke="#8a64c4" stroke-width="1.1"/>
<line x1="774.0" y1="103.9" x2="775.8" y2="101.6" stroke="#8a64c4" stroke-width="0.9"/>
<line x1="774.0" y1="103.9" x2="772.0" y2="101.7" stroke="#8a64c4" stroke-width="0.9"/>
<ellipse cx="774.3" cy="112.9" rx="3.4" ry="1.8" transform="rotate(-92 774.3 112.9)" fill="#9070c8"/>
<line x1="794.4" y1="120.2" x2="800.4" y2="113.5" stroke="#8a64c4" stroke-width="1.1"/>
<line x1="800.4" y1="113.5" x2="803.4" y2="113.1" stroke="#8a64c4" stroke-width="0.9"/>
<line x1="800.4" y1="113.5" x2="800.5" y2="110.5" stroke="#8a64c4" stroke-width="0.9"/>
<ellipse cx="794.4" cy="120.2" rx="3.4" ry="1.8" transform="rotate(-48 794.4 120.2)" fill="#9070c8"/>
<line x1="803.8" y1="142.9" x2="812.7" y2="143.4" stroke="#8a64c4" stroke-width="1.1"/>
<line x1="812.7" y1="143.4" x2="814.9" y2="145.4" stroke="#8a64c4" stroke-width="0.9"/>
<line x1="812.7" y1="143.4" x2="815.1" y2="141.6" stroke="#8a64c4" stroke-width="0.9"/>
<ellipse cx="803.8" cy="142.9" rx="3.4" ry="1.8" transform="rotate(3 803.8 142.9)" fill="#9070c8"/>
<line x1="785.0" y1="168.2" x2="788.1" y2="176.6" stroke="#8a64c4" stroke-width="1.1"/>
<line x1="788.1" y1="176.6" x2="787.1" y2="179.5" stroke="#8a64c4" stroke-width="0.9"/>
<line x1="788.1" y1="176.6" x2="790.7" y2="178.1" stroke="#8a64c4" stroke-width="0.9"/>
<ellipse cx="785.0" cy="168.2" rx="3.4" ry="1.8" transform="rotate(70 785.0 168.2)" fill="#9070c8"/>
<line x1="776.3" y1="169.9" x2="776.6" y2="178.9" stroke="#8a64c4" stroke-width="1.1"/>
<line x1="776.6" y1="178.9" x2="774.8" y2="181.2" stroke="#8a64c4" stroke-width="0.9"/>
<line x1="776.6" y1="178.9" x2="778.6" y2="181.1" stroke="#8a64c4" stroke-width="0.9"/>
<ellipse cx="776.3" cy="169.9" rx="3.4" ry="1.8" transform="rotate(88 776.3 169.9)" fill="#9070c8"/>
<line x1="767.4" y1="168.8" x2="765.0" y2="177.4" stroke="#8a64c4" stroke-width="1.1"/>
<line x1="765.0" y1="177.4" x2="762.5" y2="179.1" stroke="#8a64c4" stroke-width="0.9"/>
<line x1="765.0" y1="177.4" x2="766.2" y2="180.2" stroke="#8a64c4" stroke-width="0.9"/>
<ellipse cx="767.4" cy="168.8" rx="3.4" ry="1.8" transform="rotate(106 767.4 168.8)" fill="#9070c8"/>
<line x1="747.8" y1="148.8" x2="739.1" y2="151.1" stroke="#8a64c4" stroke-width="1.1"/>
<line x1="739.1" y1="151.1" x2="736.4" y2="149.8" stroke="#8a64c4" stroke-width="0.9"/>
<line x1="739.1" y1="151.1" x2="737.4" y2="153.6" stroke="#8a64c4" stroke-width="0.9"/>
<ellipse cx="747.8" cy="148.8" rx="3.4" ry="1.8" transform="rotate(165 747.8 148.8)" fill="#9070c8"/>
<line x1="757.0" y1="119.6" x2="751.2" y2="112.7" stroke="#8a64c4" stroke-width="1.1"/>
<line x1="751.2" y1="112.7" x2="751.2" y2="109.7" stroke="#8a64c4" stroke-width="0.9"/>
<line x1="751.2" y1="112.7" x2="748.2" y2="112.2" stroke="#8a64c4" stroke-width="0.9"/>
<ellipse cx="757.0" cy="119.6" rx="3.4" ry="1.8" transform="rotate(-130 757.0 119.6)" fill="#9070c8"/>
<circle cx="661.5" cy="212.7" r="32.6" fill="#f2d834"/>
<circle cx="661.5" cy="212.7" r="32.3" fill="none" stroke="#a04020" stroke-width="1" stroke-dasharray="1 0.8"/>
<circle cx="661.5" cy="212.7" r="26.6" fill="#f0a0a8" stroke="#a04020" stroke-width="0.9" stroke-dasharray="1 0.8"/>
<ellipse cx="658" cy="205" rx="14.5" ry="13" fill="#9ad6ea" opacity="0.55"/>
<ellipse cx="658" cy="205" rx="14" ry="12.6" fill="none" stroke="#58bcdc" stroke-width="1.1" stroke-dasharray="3 1.2"/>
<ellipse cx="658" cy="205" rx="12.2" ry="11" fill="none" stroke="#58bcdc" stroke-width="1.1" stroke-dasharray="4 1"/>
<ellipse cx="658" cy="205" rx="10.4" ry="9.4" fill="none" stroke="#58bcdc" stroke-width="1.1" stroke-dasharray="2.5 1.2"/>
<circle cx="658.8" cy="206" r="7.5" fill="#f2a020"/>
<circle cx="657.6" cy="206.4" r="2.1" fill="#8a60a8"/>
<path d="M652,223.8 C655,219.5 662,219.5 665,223.8 C662,228 655,228 652,223.8Z M654,221.5 L663,221.5 M653.5,226 L663.5,226" fill="#a8d050" stroke="#8cb838" stroke-width="0.6"/>
<ellipse cx="676.2" cy="227" rx="4.3" ry="3.1" fill="#80c8ec"/>
<ellipse cx="643" cy="219.8" rx="3.8" ry="2.2" fill="#d84870" transform="rotate(-35 643 219.8)"/>
<ellipse cx="682.5" cy="202.4" rx="2.2" ry="3.6" fill="#d84870"/>
<ellipse cx="665.9" cy="234" rx="3.6" ry="1.8" fill="#d84870"/>
<ellipse cx="673.8" cy="193.7" rx="1.8" ry="1.1" fill="#f0d040"/>
<ellipse cx="677" cy="199.3" rx="1.8" ry="1.1" fill="#f0d040"/>
<ellipse cx="640.6" cy="212" rx="1.8" ry="1.1" fill="#f0d040"/>
<ellipse cx="669.8" cy="220.6" rx="1.8" ry="1.1" fill="#f0d040"/>
<ellipse cx="655.6" cy="231" rx="1.8" ry="1.1" fill="#f0d040"/>
<circle cx="648" cy="194" r="0.9" fill="#fff"/>
<circle cx="676" cy="212" r="0.9" fill="#fff"/>
<circle cx="650" cy="230" r="0.9" fill="#fff"/>
<circle cx="680" cy="218" r="0.9" fill="#fff"/>
<text x="606" y="263.5" class="b" font-size="17" fill="#111" textLength="165.5" lengthAdjust="spacingAndGlyphs">1. Membrane-coated</text>
<path d="M809.7,229.8 C801.9,232.4 799.5,219.3 790.1,226.6" stroke="#3ea0e0" stroke-width="1.7" fill="none" stroke-linecap="round"/>
<path d="M813.5,223.2 C811.2,214.2 797.3,218.4 798.6,205.4" stroke="#3ea0e0" stroke-width="1.7" fill="none" stroke-linecap="round"/>
<path d="M820.1,217.9 C812.6,214.8 819.7,203.6 807.9,202.9" stroke="#3ea0e0" stroke-width="1.7" fill="none" stroke-linecap="round"/>
<path d="M826.6,215.6 C830.6,209.0 818.4,204.8 827.0,197.3" stroke="#3ea0e0" stroke-width="1.7" fill="none" stroke-linecap="round"/>
<path d="M832.7,215.4 C828.1,207.1 841.2,200.3 831.1,191.7" stroke="#3ea0e0" stroke-width="1.7" fill="none" stroke-linecap="round"/>
<path d="M839.3,217.2 C846.7,213.5 838.8,202.6 850.6,201.0" stroke="#3ea0e0" stroke-width="1.7" fill="none" stroke-linecap="round"/>
<path d="M845.1,221.0 C845.6,212.6 858.9,215.3 855.5,203.7" stroke="#3ea0e0" stroke-width="1.7" fill="none" stroke-linecap="round"/>
<path d="M849.8,227.0 C859.3,228.1 860.7,213.3 872.6,219.5" stroke="#3ea0e0" stroke-width="1.7" fill="none" stroke-linecap="round"/>
<path d="M852.2,234.2 C857.8,228.2 866.0,238.7 870.8,227.9" stroke="#3ea0e0" stroke-width="1.7" fill="none" stroke-linecap="round"/>
<path d="M851.9,241.9 C858.5,248.8 869.0,238.4 874.2,250.8" stroke="#3ea0e0" stroke-width="1.7" fill="none" stroke-linecap="round"/>
<path d="M849.1,249.0 C858.5,248.5 858.9,263.2 871.1,257.9" stroke="#3ea0e0" stroke-width="1.7" fill="none" stroke-linecap="round"/>
<path d="M843.9,254.6 C843.7,262.7 856.8,260.8 852.7,271.9" stroke="#3ea0e0" stroke-width="1.7" fill="none" stroke-linecap="round"/>
<path d="M837.2,258.2 C834.4,266.9 848.3,270.5 840.3,280.6" stroke="#3ea0e0" stroke-width="1.7" fill="none" stroke-linecap="round"/>
<path d="M830.4,259.3 C825.3,265.4 836.7,271.8 826.8,277.7" stroke="#3ea0e0" stroke-width="1.7" fill="none" stroke-linecap="round"/>
<path d="M823.6,258.2 C826.4,267.0 812.4,270.7 820.5,280.9" stroke="#3ea0e0" stroke-width="1.7" fill="none" stroke-linecap="round"/>
<path d="M816.9,254.6 C808.9,256.4 813.9,268.7 802.2,267.4" stroke="#3ea0e0" stroke-width="1.7" fill="none" stroke-linecap="round"/>
<path d="M811.7,249.0 C803.5,248.0 803.8,261.5 793.0,256.2" stroke="#3ea0e0" stroke-width="1.7" fill="none" stroke-linecap="round"/>
<path d="M808.7,241.1 C802.1,237.1 797.9,249.3 790.5,240.7" stroke="#3ea0e0" stroke-width="1.7" fill="none" stroke-linecap="round"/>
<path d="M825.5,215.9 C829.0,207.1 815.2,201.9 824.2,192.1" stroke="#3ea0e0" stroke-width="1.7" fill="none" stroke-linecap="round"/>
<polygon points="818.4,185.0 824.8,192.8 816.0,194.8" fill="#f4c450" stroke="#eaa030" stroke-width="0.6"/>
<path d="M809.3,231.0 C800.4,234.0 796.2,219.9 785.9,228.2" stroke="#3ea0e0" stroke-width="1.7" fill="none" stroke-linecap="round"/>
<polygon points="779.2,222.0 789.1,220.2 786.5,228.9" fill="#f4c450" stroke="#eaa030" stroke-width="0.6"/>
<path d="M808.7,240.8 C806.3,236.8 805.6,246.0 802.4,239.2" stroke="#3ea0e0" stroke-width="1.7" fill="none" stroke-linecap="round"/>
<polygon points="794.8,243.0 802.9,237.1 804.4,246.0" fill="#f4c450" stroke="#eaa030" stroke-width="0.6"/>
<path d="M849.8,226.9 C859.0,228.1 860.3,213.6 871.9,219.7" stroke="#3ea0e0" stroke-width="1.7" fill="none" stroke-linecap="round"/>
<polygon points="877.2,212.2 871.4,220.5 867.1,212.5" fill="#f4c450" stroke="#eaa030" stroke-width="0.6"/>
<path d="M851.9,242.0 C857.3,248.6 866.7,238.7 870.9,250.1" stroke="#3ea0e0" stroke-width="1.7" fill="none" stroke-linecap="round"/>
<polygon points="879.7,248.2 869.9,250.6 871.9,241.8" fill="#f4c450" stroke="#eaa030" stroke-width="0.6"/>
<path d="M815.6,253.5 C807.6,254.7 811.6,267.2 800.1,265.0" stroke="#3ea0e0" stroke-width="1.7" fill="none" stroke-linecap="round"/>
<polygon points="797.3,273.5 800.1,263.8 806.7,269.9" fill="#f4c450" stroke="#eaa030" stroke-width="0.6"/>
<path d="M831.7,259.3 C827.4,261.8 836.8,263.8 829.5,266.8" stroke="#3ea0e0" stroke-width="1.7" fill="none" stroke-linecap="round"/>
<polygon points="832.6,274.8 827.6,266.1 836.6,265.5" fill="#f4c450" stroke="#eaa030" stroke-width="0.6"/>
<path d="M837.5,258.1 C843.6,261.0 835.2,269.2 845.3,270.8" stroke="#3ea0e0" stroke-width="1.7" fill="none" stroke-linecap="round"/>
<polygon points="844.8,279.5 837.6,272.5 846.2,269.6" fill="#f4c450" stroke="#eaa030" stroke-width="0.6"/>
<circle cx="830.4" cy="237.3" r="23.5" fill="url(#blueNP)"/>
<path d="M815.5,242.5 C814,232 820,220 830.5,217.8 C841,220 847,232 846,242.5 C836,244 825,244 815.5,242.5Z" fill="#2ec262" stroke="#e24c9c" stroke-width="1.4"/>
<circle cx="829.9" cy="227.3" r="1.9" fill="#e048a8"/>
<circle cx="823.4" cy="233.3" r="1.9" fill="#e048a8"/>
<circle cx="830.4" cy="232.3" r="1.9" fill="#e048a8"/>
<circle cx="837.4" cy="233.3" r="1.9" fill="#e048a8"/>
<circle cx="826.4" cy="239.3" r="1.9" fill="#e048a8"/>
<circle cx="833.4" cy="238.3" r="1.9" fill="#e048a8"/>
<circle cx="840.4" cy="238.3" r="1.9" fill="#e048a8"/>
<path d="M857.9,253.2 L858.3,254.7 L858.8,256.1 L859.3,257.6 L859.9,259.0 L860.6,260.3 L861.4,261.7 L862.2,263.0 L863.1,264.3 L864.0,265.6 L865.0,266.8 L866.1,268.1 L867.2,269.2 L868.4,270.4 L869.6,271.5 L870.9,272.7 L872.2,273.7 L873.6,274.8 L875.0,275.8 L876.5,276.8 L878.0,277.7 L879.6,278.6 L881.2,279.5 L882.8,280.4 L884.5,281.2 L886.2,282.0 L888.0,282.7 L889.8,283.4 L891.7,284.1 L893.6,284.8 L895.5,285.4 L897.5,286.0 L899.5,286.5 L901.5,287.0 L903.6,287.5 L905.7,287.9 L907.8,288.3 L910.0,288.6 L912.2,289.0 L914.4,289.2 L916.7,289.5 L917.3,277.5 L915.2,277.5 L913.2,277.4 L911.2,277.4 L909.2,277.2 L907.2,277.1 L905.3,276.9 L903.4,276.7 L901.5,276.5 L899.7,276.2 L897.8,275.9 L896.0,275.5 L894.3,275.2 L892.6,274.8 L890.9,274.3 L889.2,273.9 L887.6,273.4 L886.0,272.9 L884.4,272.3 L882.9,271.8 L881.4,271.1 L879.9,270.5 L878.5,269.8 L877.1,269.2 L875.8,268.4 L874.4,267.7 L873.2,266.9 L871.9,266.1 L870.7,265.2 L869.5,264.4 L868.4,263.5 L867.3,262.5 L866.3,261.6 L865.2,260.6 L864.3,259.6 L863.3,258.5 L862.4,257.4 L861.5,256.3 L860.7,255.1 L859.9,254.0 L859.1,252.8Z" fill="url(#arr3)"/>
<path d="M943,276 L913.8,271.5 L915,277.5 L917.5,289.5 L918.3,294.8Z" fill="#f0d850"/>
<circle cx="869.5" cy="279.3" r="2.7" fill="#8a58c0"/>
<circle cx="878.5" cy="282.8" r="3" fill="#8a58c0"/>
<circle cx="864.7" cy="288.8" r="2.8" fill="#8a58c0"/>
<circle cx="880.8" cy="290.6" r="3" fill="#8a58c0"/>
<circle cx="890.5" cy="294.5" r="2.4" fill="#8a58c0"/>
<circle cx="899.5" cy="293.3" r="1.7" fill="#8a58c0"/>
<circle cx="906.3" cy="297.5" r="1.6" fill="#8a58c0"/>
<circle cx="915.3" cy="294.3" r="1.4" fill="#8a58c0"/>
<linearGradient id="cone3" gradientUnits="userSpaceOnUse" x1="916" y1="183" x2="973" y2="267"><stop offset="0" stop-color="#f4ccd0"/><stop offset="1" stop-color="#e8a2aa"/></linearGradient>
<path d="M917,181.6 L945.8,275.4 L973,267 L991.5,245.3Z" fill="url(#cone3)"/>
<path d="M931.8,174.3 C928,176.5 922,177.5 916,178.8 C911,180 908,183 907.5,186 C907,188 906.8,189 906.5,190.5" stroke="#9a1e22" stroke-width="1.5" fill="none" stroke-linecap="round"/>
<g stroke="#b03438" stroke-width="0.75" fill="none" stroke-linecap="round"><path d="M906.5,190.5 C903,189 901,188 898.5,186.5 M906.5,190.5 C904,194 902,198 900,204 M906.5,190.5 C909,193 911,196 912.5,200 M902,196 C899.5,196 898,197 897,199 M909.5,195 C911,197 913,198 914,198"/><path d="M931.8,174.3 C930,168 928,160 927.3,152.7 M931.8,174.3 C934,167 935,161 935,156.6 M931.8,174.3 C935,170 937,166 937.6,161.7 M931.8,174.3 C936,173 939,172 941.4,172 M931.8,174.3 C933,179 934,183 933.7,187.4 M931.8,174.3 C927,173 922,171 918.3,170 M928.6,163 C926,161 924,160 922,160 M935,163 C937,160 939,158 940,156 M938.5,172.5 C939.5,176 940,179 939.5,181 M933,181 C931,183 930,185 930,187 M922,171 C921,168 921,166 922,164 M929,158 C931,156 932,154 932,151"/></g>
<circle cx="931.8" cy="174.3" r="2.5" fill="#9a1e22"/>
<circle cx="973" cy="267" r="28.5" fill="#f38b7e"/>
<path d="M954,262 C956,248 978,244 987,256 C982,260 978,265 983,273 C989,277 988,286 978,288 C964,291 951,280 954,262Z" fill="url(#greenblob)"/>
<circle cx="983" cy="266.5" r="3.8" fill="#7a50b0"/>
<path d="M990,268 C992,264 997,265 1000,266 C1004,258 1016,256 1026,262 C1036,270 1036,286 1024,290 C1012,294 1000,288 996,278 C992,278 988,274 990,268Z" fill="url(#yellowbulb)"/>
<line x1="1074.3" y1="148.4" x2="1074.3" y2="130.4" stroke="#70c8d8" stroke-width="1.8"/>
<ellipse cx="1074.3" cy="127.9" rx="4.2" ry="2.4" transform="rotate(-90 1074.3 127.9)" fill="#8a1e1e"/>
<line x1="1047.4" y1="159.5" x2="1036.1" y2="148.2" stroke="#70c8d8" stroke-width="1.8"/>
<ellipse cx="1034.3" cy="146.4" rx="4.2" ry="2.4" transform="rotate(-135 1034.3 146.4)" fill="#8a1e1e"/>
<line x1="1042.1" y1="166.3" x2="1028.5" y2="157.8" stroke="#70c8d8" stroke-width="1.8"/>
<polygon points="1024.3,155.1 1029.8,155.7 1027.2,159.9" fill="#c860c8"/>
<line x1="1103.4" y1="162.0" x2="1116.4" y2="151.0" stroke="#70c8d8" stroke-width="1.8"/>
<polygon points="1120.3,147.8 1118.0,153.0 1114.8,149.1" fill="#c860c8"/>
<line x1="1108.2" y1="169.1" x2="1114.4" y2="166.0" stroke="#70c8d8" stroke-width="1.8"/>
<ellipse cx="1116.6" cy="164.8" rx="4.2" ry="2.4" transform="rotate(-27 1116.6 164.8)" fill="#8a1e1e"/>
<line x1="1036.3" y1="186.4" x2="1019.3" y2="186.4" stroke="#70c8d8" stroke-width="1.8"/>
<ellipse cx="1016.8" cy="186.4" rx="4.2" ry="2.4" transform="rotate(180 1016.8 186.4)" fill="#8a1e1e"/>
<line x1="1112.3" y1="186.4" x2="1129.3" y2="186.4" stroke="#70c8d8" stroke-width="1.8"/>
<ellipse cx="1131.8" cy="186.4" rx="4.2" ry="2.4" transform="rotate(0 1131.8 186.4)" fill="#8a1e1e"/>
<line x1="1039.6" y1="201.9" x2="1033.2" y2="204.7" stroke="#70c8d8" stroke-width="1.8"/>
<ellipse cx="1030.9" cy="205.7" rx="4.2" ry="2.4" transform="rotate(156 1030.9 205.7)" fill="#8a1e1e"/>
<line x1="1107.2" y1="205.4" x2="1121.9" y2="213.9" stroke="#70c8d8" stroke-width="1.8"/>
<ellipse cx="1124.1" cy="215.2" rx="4.2" ry="2.4" transform="rotate(30 1124.1 215.2)" fill="#8a1e1e"/>
<line x1="1055.3" y1="219.3" x2="1048.3" y2="231.4" stroke="#70c8d8" stroke-width="1.8"/>
<ellipse cx="1047.0" cy="233.6" rx="4.2" ry="2.4" transform="rotate(120 1047.0 233.6)" fill="#8a1e1e"/>
<line x1="1074.3" y1="224.4" x2="1074.3" y2="237.4" stroke="#70c8d8" stroke-width="1.8"/>
<ellipse cx="1074.3" cy="239.9" rx="4.2" ry="2.4" transform="rotate(90 1074.3 239.9)" fill="#8a1e1e"/>
<line x1="1094.4" y1="218.6" x2="1100.8" y2="228.8" stroke="#70c8d8" stroke-width="1.8"/>
<circle cx="1074.3" cy="186.4" r="40" fill="#2a86ae"/>
<circle cx="1074.3" cy="186.4" r="39.2" fill="none" stroke="#7ad0e4" stroke-width="1.1" stroke-dasharray="1 1.2"/>
<circle cx="1074.3" cy="186.4" r="31.5" fill="url(#ev)"/>
<circle cx="1074.3" cy="186.4" r="31.2" fill="none" stroke="#88d8ea" stroke-width="1" stroke-dasharray="1 1.2"/>
<circle cx="1074.3" cy="186.4" r="12.5" fill="none" stroke="#5ccc5c" stroke-width="3" stroke-dasharray="2 1.4"/>
<circle cx="1074.3" cy="186.4" r="8" fill="#98a0b0"/>
<path d="M1092.3,186.4 q1.5,-2 3,0 t3,0" stroke="#d050b0" stroke-width="1.2" fill="none" transform="rotate(70 1095.3 186.4)"/>
<path d="M1088.3,198.7 q1.5,-2 3,0 t3,0" stroke="#d050b0" stroke-width="1.2" fill="none" transform="rotate(106 1091.3 198.7)"/>
<path d="M1077.8,206.4 q1.5,-2 3,0 t3,0" stroke="#d050b0" stroke-width="1.2" fill="none" transform="rotate(142 1080.8 206.4)"/>
<path d="M1064.8,206.4 q1.5,-2 3,0 t3,0" stroke="#d050b0" stroke-width="1.2" fill="none" transform="rotate(178 1067.8 206.4)"/>
<path d="M1054.3,198.7 q1.5,-2 3,0 t3,0" stroke="#d050b0" stroke-width="1.2" fill="none" transform="rotate(214 1057.3 198.7)"/>
<path d="M1050.3,186.4 q1.5,-2 3,0 t3,0" stroke="#d050b0" stroke-width="1.2" fill="none" transform="rotate(250 1053.3 186.4)"/>
<path d="M1054.3,174.1 q1.5,-2 3,0 t3,0" stroke="#d050b0" stroke-width="1.2" fill="none" transform="rotate(286 1057.3 174.1)"/>
<path d="M1064.8,166.4 q1.5,-2 3,0 t3,0" stroke="#d050b0" stroke-width="1.2" fill="none" transform="rotate(322 1067.8 166.4)"/>
<path d="M1077.8,166.4 q1.5,-2 3,0 t3,0" stroke="#d050b0" stroke-width="1.2" fill="none" transform="rotate(358 1080.8 166.4)"/>
<path d="M1088.3,174.1 q1.5,-2 3,0 t3,0" stroke="#d050b0" stroke-width="1.2" fill="none" transform="rotate(394 1091.3 174.1)"/>
<ellipse cx="1063.9" cy="147.8" rx="5.5" ry="2.4" transform="rotate(-105 1063.9 147.8)" fill="#f4ec98"/>
<ellipse cx="1113.9" cy="192.0" rx="5.5" ry="2.4" transform="rotate(8 1113.9 192.0)" fill="#f4ec98"/>
<ellipse cx="1043.7" cy="212.1" rx="5.5" ry="2.4" transform="rotate(140 1043.7 212.1)" fill="#f4ec98"/>
<path d="M1137,153 C1133,128 1156,102 1189,102.3 C1220,102.5 1240,124 1240,150 C1240,178 1218,200 1191,200 C1166,200 1148,190 1143,173.5 C1150,175 1157,170 1156,163 C1155,155 1147,150 1137,153Z" fill="#f29aa2" stroke="#f7cc1c" stroke-width="2"/>
<path d="M1137,153 C1133,128 1156,102 1189,102.3 C1220,102.5 1240,124 1240,150 C1240,178 1218,200 1191,200 C1166,200 1148,190 1143,173.5 C1150,175 1157,170 1156,163 C1155,155 1147,150 1137,153Z" fill="none" stroke="#e86040" stroke-width="0.5" transform="translate(0 0)" opacity="0.25"/>
<circle cx="1201" cy="149.5" r="18.5" fill="none" stroke="#78c8dc" stroke-width="1.2" stroke-dasharray="5 1.5"/>
<circle cx="1201" cy="149.5" r="16.5" fill="none" stroke="#78c8dc" stroke-width="1.2" stroke-dasharray="5 1.5"/>
<circle cx="1201" cy="149.5" r="14.5" fill="none" stroke="#78c8dc" stroke-width="1.2" stroke-dasharray="5 1.5"/>
<circle cx="1201" cy="149.5" r="12.5" fill="none" stroke="#78c8dc" stroke-width="1.2" stroke-dasharray="5 1.5"/>
<circle cx="1203.2" cy="150.7" r="10.2" fill="#f2a21e"/>
<circle cx="1201" cy="148.5" r="2.8" fill="#9070b0"/>
<path d="M1183,166 C1188,162 1197,166 1200,172 C1194,177 1186,175 1183,166Z" fill="#b4d044"/>
<ellipse cx="1179" cy="119.5" rx="2.2" ry="5" fill="#d83050"/>
<ellipse cx="1173" cy="141" rx="5" ry="2.3" fill="#d83050" transform="rotate(-15 1173 141)"/>
<ellipse cx="1163" cy="182" rx="5" ry="2.3" fill="#d83050" transform="rotate(15 1163 182)"/>
<circle cx="1156.6" cy="145" r="7" fill="#f8d0d6"/><circle cx="1156.6" cy="145" r="3.5" fill="#fff"/>
<circle cx="1146.4" cy="163.2" r="8.5" fill="#f8ccd2" stroke="#f0a0a8" stroke-width="0.8"/><circle cx="1146.4" cy="163.2" r="2.6" fill="#4a98b8"/>
<circle cx="1198" cy="128" r="1.2" fill="#fff"/>
<circle cx="1224" cy="156" r="1.2" fill="#fff"/>
<circle cx="1226" cy="168" r="1.2" fill="#fff"/>
<circle cx="1175" cy="171" r="1.2" fill="#fff"/>
<circle cx="1185" cy="187" r="1.2" fill="#fff"/>
<circle cx="1215" cy="137" r="1.2" fill="#fff"/>
<circle cx="1123" cy="165.5" r="5.0" fill="none" stroke="#80c8e0" stroke-width="0.8" stroke-dasharray="0.8 0.8"/>
<circle cx="1123" cy="165.5" r="3.8" fill="#306c9c"/>
<circle cx="1137.3" cy="178" r="4.0" fill="none" stroke="#80c8e0" stroke-width="0.8" stroke-dasharray="0.8 0.8"/>
<circle cx="1137.3" cy="178" r="2.8" fill="#306c9c"/>
<circle cx="1129" cy="180" r="3.4000000000000004" fill="none" stroke="#80c8e0" stroke-width="0.8" stroke-dasharray="0.8 0.8"/>
<circle cx="1129" cy="180" r="2.2" fill="#306c9c"/>
<text x="1148" y="264.3" class="b" font-size="17" fill="#111" text-anchor="middle">2. Extracellular</text>
<text x="1147.5" y="284.5" class="b" font-size="17" fill="#111" text-anchor="middle">vesicle-mediated</text>
<text x="924.8" y="325.3" class="b" font-size="17" fill="#111" text-anchor="middle">3. BNDS that mediates specific protein receptor</text>
<text x="924.8" y="344.4" class="b" font-size="17" fill="#111" text-anchor="middle">modifications</text>
<line x1="762.3" y1="354.6" x2="762.3" y2="343.1" stroke="#3eae7e" stroke-width="2.6"/>
<circle cx="762.3" cy="343.1" r="4.5" fill="url(#ball)"/>
<line x1="775.0" y1="356.4" x2="778.2" y2="345.4" stroke="#3eae7e" stroke-width="2.6"/>
<circle cx="778.2" cy="345.4" r="4.5" fill="url(#ball)"/>
<line x1="786.6" y1="361.7" x2="792.8" y2="352.1" stroke="#3eae7e" stroke-width="2.6"/>
<circle cx="792.8" cy="352.1" r="4.5" fill="url(#ball)"/>
<line x1="796.3" y1="370.1" x2="805.0" y2="362.6" stroke="#3eae7e" stroke-width="2.6"/>
<circle cx="805.0" cy="362.6" r="4.5" fill="url(#ball)"/>
<line x1="803.2" y1="380.9" x2="813.7" y2="376.1" stroke="#3eae7e" stroke-width="2.6"/>
<circle cx="813.7" cy="376.1" r="4.5" fill="url(#ball)"/>
<line x1="806.8" y1="393.2" x2="818.2" y2="391.6" stroke="#3eae7e" stroke-width="2.6"/>
<circle cx="818.2" cy="391.6" r="4.5" fill="url(#ball)"/>
<line x1="806.8" y1="406.0" x2="818.2" y2="407.6" stroke="#3eae7e" stroke-width="2.6"/>
<circle cx="818.2" cy="407.6" r="4.5" fill="url(#ball)"/>
<line x1="803.2" y1="418.3" x2="813.7" y2="423.1" stroke="#3eae7e" stroke-width="2.6"/>
<circle cx="813.7" cy="423.1" r="4.5" fill="url(#ball)"/>
<line x1="796.3" y1="429.1" x2="805.0" y2="436.6" stroke="#3eae7e" stroke-width="2.6"/>
<circle cx="805.0" cy="436.6" r="4.5" fill="url(#ball)"/>
<line x1="786.6" y1="437.5" x2="792.8" y2="447.1" stroke="#3eae7e" stroke-width="2.6"/>
<circle cx="792.8" cy="447.1" r="4.5" fill="url(#ball)"/>
<line x1="775.0" y1="442.8" x2="778.2" y2="453.8" stroke="#3eae7e" stroke-width="2.6"/>
<circle cx="778.2" cy="453.8" r="4.5" fill="url(#ball)"/>
<line x1="762.3" y1="444.6" x2="762.3" y2="456.1" stroke="#3eae7e" stroke-width="2.6"/>
<circle cx="762.3" cy="456.1" r="4.5" fill="url(#ball)"/>
<line x1="749.6" y1="442.8" x2="746.4" y2="453.8" stroke="#3eae7e" stroke-width="2.6"/>
<circle cx="746.4" cy="453.8" r="4.5" fill="url(#ball)"/>
<line x1="738.0" y1="437.5" x2="731.8" y2="447.1" stroke="#3eae7e" stroke-width="2.6"/>
<circle cx="731.8" cy="447.1" r="4.5" fill="url(#ball)"/>
<line x1="728.3" y1="429.1" x2="719.6" y2="436.6" stroke="#3eae7e" stroke-width="2.6"/>
<circle cx="719.6" cy="436.6" r="4.5" fill="url(#ball)"/>
<line x1="721.4" y1="418.3" x2="710.9" y2="423.1" stroke="#3eae7e" stroke-width="2.6"/>
<circle cx="710.9" cy="423.1" r="4.5" fill="url(#ball)"/>
<line x1="717.8" y1="406.0" x2="706.4" y2="407.6" stroke="#3eae7e" stroke-width="2.6"/>
<circle cx="706.4" cy="407.6" r="4.5" fill="url(#ball)"/>
<line x1="717.8" y1="393.2" x2="706.4" y2="391.6" stroke="#3eae7e" stroke-width="2.6"/>
<circle cx="706.4" cy="391.6" r="4.5" fill="url(#ball)"/>
<line x1="721.4" y1="380.9" x2="710.9" y2="376.1" stroke="#3eae7e" stroke-width="2.6"/>
<circle cx="710.9" cy="376.1" r="4.5" fill="url(#ball)"/>
<line x1="728.3" y1="370.1" x2="719.6" y2="362.6" stroke="#3eae7e" stroke-width="2.6"/>
<circle cx="719.6" cy="362.6" r="4.5" fill="url(#ball)"/>
<line x1="738.0" y1="361.7" x2="731.8" y2="352.1" stroke="#3eae7e" stroke-width="2.6"/>
<circle cx="731.8" cy="352.1" r="4.5" fill="url(#ball)"/>
<line x1="749.6" y1="356.4" x2="746.4" y2="345.4" stroke="#3eae7e" stroke-width="2.6"/>
<circle cx="746.4" cy="345.4" r="4.5" fill="url(#ball)"/>
<circle cx="762.3" cy="399.6" r="47.5" fill="#b81c2a"/>
<circle cx="762.3" cy="399.6" r="42.3" fill="url(#vir)"/>
<circle cx="762.3" cy="399.6" r="40" fill="none" stroke="#3aa4d2" stroke-width="2.6"/>
<circle cx="802.3" cy="399.6" r="1.7" fill="#c8ecf6" stroke="#2898c8" stroke-width="1"/>
<circle cx="802.1" cy="403.8" r="1.7" fill="#c8ecf6" stroke="#2898c8" stroke-width="1"/>
<circle cx="801.4" cy="407.9" r="1.7" fill="#c8ecf6" stroke="#2898c8" stroke-width="1"/>
<circle cx="800.3" cy="412.0" r="1.7" fill="#c8ecf6" stroke="#2898c8" stroke-width="1"/>
<circle cx="798.8" cy="415.9" r="1.7" fill="#c8ecf6" stroke="#2898c8" stroke-width="1"/>
<circle cx="796.9" cy="419.6" r="1.7" fill="#c8ecf6" stroke="#2898c8" stroke-width="1"/>
<circle cx="794.7" cy="423.1" r="1.7" fill="#c8ecf6" stroke="#2898c8" stroke-width="1"/>
<circle cx="792.0" cy="426.4" r="1.7" fill="#c8ecf6" stroke="#2898c8" stroke-width="1"/>
<circle cx="789.1" cy="429.3" r="1.7" fill="#c8ecf6" stroke="#2898c8" stroke-width="1"/>
<circle cx="785.8" cy="432.0" r="1.7" fill="#c8ecf6" stroke="#2898c8" stroke-width="1"/>
<circle cx="782.3" cy="434.2" r="1.7" fill="#c8ecf6" stroke="#2898c8" stroke-width="1"/>
<circle cx="778.6" cy="436.1" r="1.7" fill="#c8ecf6" stroke="#2898c8" stroke-width="1"/>
<circle cx="774.7" cy="437.6" r="1.7" fill="#c8ecf6" stroke="#2898c8" stroke-width="1"/>
<circle cx="770.6" cy="438.7" r="1.7" fill="#c8ecf6" stroke="#2898c8" stroke-width="1"/>
<circle cx="766.5" cy="439.4" r="1.7" fill="#c8ecf6" stroke="#2898c8" stroke-width="1"/>
<circle cx="762.3" cy="439.6" r="1.7" fill="#c8ecf6" stroke="#2898c8" stroke-width="1"/>
<circle cx="758.1" cy="439.4" r="1.7" fill="#c8ecf6" stroke="#2898c8" stroke-width="1"/>
<circle cx="754.0" cy="438.7" r="1.7" fill="#c8ecf6" stroke="#2898c8" stroke-width="1"/>
<circle cx="749.9" cy="437.6" r="1.7" fill="#c8ecf6" stroke="#2898c8" stroke-width="1"/>
<circle cx="746.0" cy="436.1" r="1.7" fill="#c8ecf6" stroke="#2898c8" stroke-width="1"/>
<circle cx="742.3" cy="434.2" r="1.7" fill="#c8ecf6" stroke="#2898c8" stroke-width="1"/>
<circle cx="738.8" cy="432.0" r="1.7" fill="#c8ecf6" stroke="#2898c8" stroke-width="1"/>
<circle cx="735.5" cy="429.3" r="1.7" fill="#c8ecf6" stroke="#2898c8" stroke-width="1"/>
<circle cx="732.6" cy="426.4" r="1.7" fill="#c8ecf6" stroke="#2898c8" stroke-width="1"/>
<circle cx="729.9" cy="423.1" r="1.7" fill="#c8ecf6" stroke="#2898c8" stroke-width="1"/>
<circle cx="727.7" cy="419.6" r="1.7" fill="#c8ecf6" stroke="#2898c8" stroke-width="1"/>
<circle cx="725.8" cy="415.9" r="1.7" fill="#c8ecf6" stroke="#2898c8" stroke-width="1"/>
<circle cx="724.3" cy="412.0" r="1.7" fill="#c8ecf6" stroke="#2898c8" stroke-width="1"/>
<circle cx="723.2" cy="407.9" r="1.7" fill="#c8ecf6" stroke="#2898c8" stroke-width="1"/>
<circle cx="722.5" cy="403.8" r="1.7" fill="#c8ecf6" stroke="#2898c8" stroke-width="1"/>
<circle cx="722.3" cy="399.6" r="1.7" fill="#c8ecf6" stroke="#2898c8" stroke-width="1"/>
<circle cx="722.5" cy="395.4" r="1.7" fill="#c8ecf6" stroke="#2898c8" stroke-width="1"/>
<circle cx="723.2" cy="391.3" r="1.7" fill="#c8ecf6" stroke="#2898c8" stroke-width="1"/>
<circle cx="724.3" cy="387.2" r="1.7" fill="#c8ecf6" stroke="#2898c8" stroke-width="1"/>
<circle cx="725.8" cy="383.3" r="1.7" fill="#c8ecf6" stroke="#2898c8" stroke-width="1"/>
<circle cx="727.7" cy="379.6" r="1.7" fill="#c8ecf6" stroke="#2898c8" stroke-width="1"/>
<circle cx="729.9" cy="376.1" r="1.7" fill="#c8ecf6" stroke="#2898c8" stroke-width="1"/>
<circle cx="732.6" cy="372.8" r="1.7" fill="#c8ecf6" stroke="#2898c8" stroke-width="1"/>
<circle cx="735.5" cy="369.9" r="1.7" fill="#c8ecf6" stroke="#2898c8" stroke-width="1"/>
<circle cx="738.8" cy="367.2" r="1.7" fill="#c8ecf6" stroke="#2898c8" stroke-width="1"/>
<circle cx="742.3" cy="365.0" r="1.7" fill="#c8ecf6" stroke="#2898c8" stroke-width="1"/>
<circle cx="746.0" cy="363.1" r="1.7" fill="#c8ecf6" stroke="#2898c8" stroke-width="1"/>
<circle cx="749.9" cy="361.6" r="1.7" fill="#c8ecf6" stroke="#2898c8" stroke-width="1"/>
<circle cx="754.0" cy="360.5" r="1.7" fill="#c8ecf6" stroke="#2898c8" stroke-width="1"/>
<circle cx="758.1" cy="359.8" r="1.7" fill="#c8ecf6" stroke="#2898c8" stroke-width="1"/>
<circle cx="762.3" cy="359.6" r="1.7" fill="#c8ecf6" stroke="#2898c8" stroke-width="1"/>
<circle cx="766.5" cy="359.8" r="1.7" fill="#c8ecf6" stroke="#2898c8" stroke-width="1"/>
<circle cx="770.6" cy="360.5" r="1.7" fill="#c8ecf6" stroke="#2898c8" stroke-width="1"/>
<circle cx="774.7" cy="361.6" r="1.7" fill="#c8ecf6" stroke="#2898c8" stroke-width="1"/>
<circle cx="778.6" cy="363.1" r="1.7" fill="#c8ecf6" stroke="#2898c8" stroke-width="1"/>
<circle cx="782.3" cy="365.0" r="1.7" fill="#c8ecf6" stroke="#2898c8" stroke-width="1"/>
<circle cx="785.8" cy="367.2" r="1.7" fill="#c8ecf6" stroke="#2898c8" stroke-width="1"/>
<circle cx="789.1" cy="369.9" r="1.7" fill="#c8ecf6" stroke="#2898c8" stroke-width="1"/>
<circle cx="792.0" cy="372.8" r="1.7" fill="#c8ecf6" stroke="#2898c8" stroke-width="1"/>
<circle cx="794.7" cy="376.1" r="1.7" fill="#c8ecf6" stroke="#2898c8" stroke-width="1"/>
<circle cx="796.9" cy="379.6" r="1.7" fill="#c8ecf6" stroke="#2898c8" stroke-width="1"/>
<circle cx="798.8" cy="383.3" r="1.7" fill="#c8ecf6" stroke="#2898c8" stroke-width="1"/>
<circle cx="800.3" cy="387.2" r="1.7" fill="#c8ecf6" stroke="#2898c8" stroke-width="1"/>
<circle cx="801.4" cy="391.3" r="1.7" fill="#c8ecf6" stroke="#2898c8" stroke-width="1"/>
<circle cx="802.1" cy="395.4" r="1.7" fill="#c8ecf6" stroke="#2898c8" stroke-width="1"/>
<path d="M763.1,373 L750,380.5 L750.8,418.5 L762.7,426 L776.1,418.5 L776.4,381.3Z" fill="#e4f4f8" stroke="#4a4450" stroke-width="0.9"/>
<path d="M753.7,381.8 L754.0,381.2 L755.0,380.7 L756.5,380.3 L758.5,380.0 L760.7,379.9 L763.2,380.0 L765.7,380.3 L768.0,380.8 L769.9,381.5 L771.4,382.2 L772.4,383.1 L772.7,384.1 L772.4,385.0 L771.4,385.9 L769.9,386.7 L768.0,387.3 L765.7,387.8 L763.2,388.1 L760.7,388.2 L758.5,388.1 L756.5,387.8 L755.0,387.4 L754.0,386.9 L753.7,386.4 L754.0,385.8 L755.0,385.3 L756.5,384.9 L758.5,384.6 L760.7,384.5 L763.2,384.6 L765.7,384.9 L768.0,385.4 L769.9,386.0 L771.4,386.8 L772.4,387.7 L772.7,388.6 L772.4,389.6 L771.4,390.5 L769.9,391.2 L768.0,391.9 L765.7,392.4 L763.2,392.7 L760.7,392.8 L758.5,392.7 L756.5,392.4 L755.0,392.0 L754.0,391.5 L753.7,390.9 L754.0,390.3 L755.0,389.8 L756.5,389.4 L758.5,389.1 L760.7,389.0 L763.2,389.1 L765.7,389.4 L768.0,389.9 L769.9,390.6 L771.4,391.3 L772.4,392.2 L772.7,393.2 L772.4,394.1 L771.4,395.0 L769.9,395.8 L768.0,396.4 L765.7,396.9 L763.2,397.2 L760.7,397.3 L758.5,397.2 L756.5,396.9 L755.0,396.5 L754.0,396.0 L753.7,395.4 L754.0,394.9 L755.0,394.4 L756.5,394.0 L758.5,393.7 L760.7,393.6 L763.2,393.7 L765.7,394.0 L768.0,394.5 L769.9,395.1 L771.4,395.9 L772.4,396.8 L772.7,397.7 L772.4,398.7 L771.4,399.6 L769.9,400.3 L768.0,401.0 L765.7,401.5 L763.2,401.8 L760.7,401.9 L758.5,401.8 L756.5,401.5 L755.0,401.1 L754.0,400.6 L753.7,400.0 L754.0,399.4 L755.0,398.9 L756.5,398.5 L758.5,398.2 L760.7,398.1 L763.2,398.2 L765.7,398.5 L768.0,399.0 L769.9,399.7 L771.4,400.4 L772.4,401.3 L772.7,402.3 L772.4,403.2 L771.4,404.1 L769.9,404.9 L768.0,405.5 L765.7,406.0 L763.2,406.3 L760.7,406.4 L758.5,406.3 L756.5,406.0 L755.0,405.6 L754.0,405.1 L753.7,404.6 L754.0,404.0 L755.0,403.5 L756.5,403.1 L758.5,402.8 L760.7,402.7 L763.2,402.8 L765.7,403.1 L767.9,403.6 L769.9,404.2 L771.4,405.0 L772.4,405.9 L772.7,406.8 L772.4,407.8 L771.4,408.7 L769.9,409.4 L768.0,410.1 L765.7,410.6 L763.2,410.9 L760.7,411.0 L758.5,410.9 L756.5,410.6 L755.0,410.2 L754.0,409.7 L753.7,409.1 L754.0,408.5 L755.0,408.0 L756.5,407.6 L758.5,407.3 L760.7,407.2 L763.2,407.3 L765.7,407.6 L768.0,408.1 L769.9,408.8 L771.4,409.5 L772.4,410.4 L772.7,411.4 L772.4,412.3 L771.4,413.2 L769.9,414.0 L768.0,414.6 L765.7,415.1 L763.2,415.4 L760.7,415.5 L758.5,415.4 L756.5,415.1 L755.0,414.7 L754.0,414.2 L753.7,413.7 L754.0,413.1 L755.0,412.6 L756.5,412.2 L758.5,411.9 L760.7,411.8 L763.2,411.9 L765.7,412.2 L767.9,412.7 L769.9,413.3 L771.4,414.1 L772.4,415.0 L772.7,415.9 L772.4,416.9 L771.4,417.8 L769.9,418.5 L768.0,419.2 L765.7,419.7 L763.2,420.0 L760.7,420.1 L758.5,420.0 L756.5,419.7 L755.0,419.3 L754.0,418.8 L753.7,418.2" stroke="#7c50c0" stroke-width="1.5" fill="none"/>
<text x="676.9" y="481.5" class="b" font-size="17" fill="#111" textLength="162" lengthAdjust="spacingAndGlyphs">4. Oncolytic viruses</text>
<circle cx="1006.8" cy="346.6" r="2.88" fill="#ee7cb0"/>
<circle cx="1006.3" cy="346.1" r="1.15" fill="#ffffff" opacity="0.5"/>
<circle cx="1009.8" cy="349.4" r="2.38" fill="#ee7cb0"/>
<circle cx="1009.3" cy="348.9" r="0.95" fill="#ffffff" opacity="0.5"/>
<circle cx="1012.8" cy="352.1" r="2.38" fill="#ee7cb0"/>
<circle cx="1012.3" cy="351.6" r="0.95" fill="#ffffff" opacity="0.5"/>
<circle cx="1015.9" cy="354.9" r="2.88" fill="#ee7cb0"/>
<circle cx="1015.4" cy="354.4" r="1.15" fill="#ffffff" opacity="0.5"/>
<circle cx="1018.9" cy="357.7" r="2.38" fill="#ee7cb0"/>
<circle cx="1018.4" cy="357.2" r="0.95" fill="#ffffff" opacity="0.5"/>
<circle cx="1021.9" cy="360.4" r="2.38" fill="#ee7cb0"/>
<circle cx="1021.4" cy="359.9" r="0.95" fill="#ffffff" opacity="0.5"/>
<circle cx="1024.9" cy="363.2" r="2.88" fill="#ee7cb0"/>
<circle cx="1024.4" cy="362.7" r="1.15" fill="#ffffff" opacity="0.5"/>
<circle cx="1027.9" cy="365.9" r="2.38" fill="#ee7cb0"/>
<circle cx="1027.4" cy="365.4" r="0.95" fill="#ffffff" opacity="0.5"/>
<circle cx="1030.9" cy="368.7" r="2.38" fill="#ee7cb0"/>
<circle cx="1030.4" cy="368.2" r="0.95" fill="#ffffff" opacity="0.5"/>
<circle cx="1034.0" cy="371.5" r="2.88" fill="#ee7cb0"/>
<circle cx="1033.5" cy="371.0" r="1.15" fill="#ffffff" opacity="0.5"/>
<circle cx="1037.0" cy="374.2" r="2.38" fill="#ee7cb0"/>
<circle cx="1036.5" cy="373.7" r="0.95" fill="#ffffff" opacity="0.5"/>
<circle cx="1040.0" cy="377.0" r="2.38" fill="#ee7cb0"/>
<circle cx="1039.5" cy="376.5" r="0.95" fill="#ffffff" opacity="0.5"/>
<circle cx="1001.7" cy="354.3" r="2.88" fill="#44b474"/>
<circle cx="1001.2" cy="353.8" r="1.15" fill="#ffffff" opacity="0.5"/>
<circle cx="1004.6" cy="357.1" r="2.38" fill="#44b474"/>
<circle cx="1004.1" cy="356.6" r="0.95" fill="#ffffff" opacity="0.5"/>
<circle cx="1007.6" cy="359.8" r="2.38" fill="#44b474"/>
<circle cx="1007.1" cy="359.3" r="0.95" fill="#ffffff" opacity="0.5"/>
<circle cx="1010.5" cy="362.6" r="2.88" fill="#44b474"/>
<circle cx="1010.0" cy="362.1" r="1.15" fill="#ffffff" opacity="0.5"/>
<circle cx="1013.4" cy="365.4" r="2.38" fill="#44b474"/>
<circle cx="1012.9" cy="364.9" r="0.95" fill="#ffffff" opacity="0.5"/>
<circle cx="1016.4" cy="368.1" r="2.38" fill="#44b474"/>
<circle cx="1015.9" cy="367.6" r="0.95" fill="#ffffff" opacity="0.5"/>
<circle cx="1019.3" cy="370.9" r="2.88" fill="#44b474"/>
<circle cx="1018.8" cy="370.4" r="1.15" fill="#ffffff" opacity="0.5"/>
<circle cx="1022.2" cy="373.7" r="2.38" fill="#44b474"/>
<circle cx="1021.7" cy="373.2" r="0.95" fill="#ffffff" opacity="0.5"/>
<circle cx="1025.1" cy="376.5" r="2.38" fill="#44b474"/>
<circle cx="1024.6" cy="376.0" r="0.95" fill="#ffffff" opacity="0.5"/>
<circle cx="1028.1" cy="379.2" r="2.88" fill="#44b474"/>
<circle cx="1027.6" cy="378.7" r="1.15" fill="#ffffff" opacity="0.5"/>
<circle cx="1031.0" cy="382.0" r="2.38" fill="#44b474"/>
<circle cx="1030.5" cy="381.5" r="0.95" fill="#ffffff" opacity="0.5"/>
<circle cx="991.4" cy="436.5" r="2.88" fill="#ee7cb0"/>
<circle cx="990.9" cy="436.0" r="1.15" fill="#ffffff" opacity="0.5"/>
<circle cx="995.1" cy="434.4" r="2.38" fill="#ee7cb0"/>
<circle cx="994.6" cy="433.9" r="0.95" fill="#ffffff" opacity="0.5"/>
<circle cx="998.8" cy="432.2" r="2.38" fill="#ee7cb0"/>
<circle cx="998.3" cy="431.7" r="0.95" fill="#ffffff" opacity="0.5"/>
<circle cx="1002.5" cy="430.1" r="2.88" fill="#ee7cb0"/>
<circle cx="1002.0" cy="429.6" r="1.15" fill="#ffffff" opacity="0.5"/>
<circle cx="1006.2" cy="428.0" r="2.38" fill="#ee7cb0"/>
<circle cx="1005.7" cy="427.5" r="0.95" fill="#ffffff" opacity="0.5"/>
<circle cx="1009.9" cy="425.8" r="2.38" fill="#ee7cb0"/>
<circle cx="1009.4" cy="425.3" r="0.95" fill="#ffffff" opacity="0.5"/>
<circle cx="1013.5" cy="423.7" r="2.88" fill="#ee7cb0"/>
<circle cx="1013.0" cy="423.2" r="1.15" fill="#ffffff" opacity="0.5"/>
<circle cx="1017.2" cy="421.5" r="2.38" fill="#ee7cb0"/>
<circle cx="1016.7" cy="421.0" r="0.95" fill="#ffffff" opacity="0.5"/>
<circle cx="1020.9" cy="419.4" r="2.38" fill="#ee7cb0"/>
<circle cx="1020.4" cy="418.9" r="0.95" fill="#ffffff" opacity="0.5"/>
<circle cx="1024.6" cy="417.3" r="2.88" fill="#ee7cb0"/>
<circle cx="1024.1" cy="416.8" r="1.15" fill="#ffffff" opacity="0.5"/>
<circle cx="1028.3" cy="415.1" r="2.38" fill="#ee7cb0"/>
<circle cx="1027.8" cy="414.6" r="0.95" fill="#ffffff" opacity="0.5"/>
<circle cx="1032.0" cy="413.0" r="2.38" fill="#ee7cb0"/>
<circle cx="1031.5" cy="412.5" r="0.95" fill="#ffffff" opacity="0.5"/>
<circle cx="997.8" cy="445.5" r="2.88" fill="#44b474"/>
<circle cx="997.3" cy="445.0" r="1.15" fill="#ffffff" opacity="0.5"/>
<circle cx="1001.4" cy="443.1" r="2.38" fill="#44b474"/>
<circle cx="1000.9" cy="442.6" r="0.95" fill="#ffffff" opacity="0.5"/>
<circle cx="1005.0" cy="440.6" r="2.38" fill="#44b474"/>
<circle cx="1004.5" cy="440.1" r="0.95" fill="#ffffff" opacity="0.5"/>
<circle cx="1008.7" cy="438.1" r="2.88" fill="#44b474"/>
<circle cx="1008.2" cy="437.6" r="1.15" fill="#ffffff" opacity="0.5"/>
<circle cx="1012.3" cy="435.7" r="2.38" fill="#44b474"/>
<circle cx="1011.8" cy="435.2" r="0.95" fill="#ffffff" opacity="0.5"/>
<circle cx="1015.9" cy="433.2" r="2.38" fill="#44b474"/>
<circle cx="1015.4" cy="432.8" r="0.95" fill="#ffffff" opacity="0.5"/>
<circle cx="1019.5" cy="430.8" r="2.88" fill="#44b474"/>
<circle cx="1019.0" cy="430.3" r="1.15" fill="#ffffff" opacity="0.5"/>
<circle cx="1023.1" cy="428.4" r="2.38" fill="#44b474"/>
<circle cx="1022.6" cy="427.9" r="0.95" fill="#ffffff" opacity="0.5"/>
<circle cx="1026.8" cy="425.9" r="2.38" fill="#44b474"/>
<circle cx="1026.3" cy="425.4" r="0.95" fill="#ffffff" opacity="0.5"/>
<circle cx="1030.4" cy="423.4" r="2.88" fill="#44b474"/>
<circle cx="1029.9" cy="422.9" r="1.15" fill="#ffffff" opacity="0.5"/>
<circle cx="1034.0" cy="421.0" r="2.38" fill="#44b474"/>
<circle cx="1033.5" cy="420.5" r="0.95" fill="#ffffff" opacity="0.5"/>
<path d="M993,339 L998,347 L1002,340 L1005,347 L1010,339 C1006,336 998,336 993,339Z" fill="#f4fafc" stroke="#88b8d0" stroke-width="0.9"/>
<line x1="1080.0" y1="399.4" x2="1095.4" y2="400.2" stroke="#f0e070" stroke-width="3.2"/>
<line x1="1079.2" y1="404.6" x2="1094.2" y2="408.5" stroke="#f0e070" stroke-width="3.2"/>
<line x1="1077.4" y1="409.6" x2="1091.4" y2="416.3" stroke="#f0e070" stroke-width="3.2"/>
<line x1="1074.6" y1="414.2" x2="1087.1" y2="423.4" stroke="#f0e070" stroke-width="3.2"/>
<line x1="1071.1" y1="418.1" x2="1081.4" y2="429.6" stroke="#f0e070" stroke-width="3.2"/>
<line x1="1066.8" y1="421.2" x2="1074.7" y2="434.5" stroke="#f0e070" stroke-width="3.2"/>
<line x1="1062.0" y1="423.5" x2="1067.2" y2="438.1" stroke="#f0e070" stroke-width="3.2"/>
<line x1="1056.9" y1="424.7" x2="1059.1" y2="440.1" stroke="#f0e070" stroke-width="3.2"/>
<line x1="1051.6" y1="425.0" x2="1050.8" y2="440.4" stroke="#f0e070" stroke-width="3.2"/>
<line x1="1046.4" y1="424.2" x2="1042.5" y2="439.2" stroke="#f0e070" stroke-width="3.2"/>
<line x1="1041.4" y1="422.4" x2="1034.7" y2="436.4" stroke="#f0e070" stroke-width="3.2"/>
<line x1="1036.8" y1="419.6" x2="1027.6" y2="432.1" stroke="#f0e070" stroke-width="3.2"/>
<line x1="1032.9" y1="416.1" x2="1021.4" y2="426.4" stroke="#f0e070" stroke-width="3.2"/>
<line x1="1029.8" y1="411.8" x2="1016.5" y2="419.7" stroke="#f0e070" stroke-width="3.2"/>
<line x1="1027.5" y1="407.0" x2="1012.9" y2="412.2" stroke="#1e6aa8" stroke-width="3.2"/>
<line x1="1026.3" y1="401.9" x2="1010.9" y2="404.1" stroke="#1e6aa8" stroke-width="3.2"/>
<line x1="1026.0" y1="396.6" x2="1010.6" y2="395.8" stroke="#1e6aa8" stroke-width="3.2"/>
<line x1="1026.8" y1="391.4" x2="1011.8" y2="387.5" stroke="#1e6aa8" stroke-width="3.2"/>
<line x1="1028.6" y1="386.4" x2="1014.6" y2="379.7" stroke="#1e6aa8" stroke-width="3.2"/>
<line x1="1031.4" y1="381.8" x2="1018.9" y2="372.6" stroke="#1e6aa8" stroke-width="3.2"/>
<line x1="1034.9" y1="377.9" x2="1024.6" y2="366.4" stroke="#1e6aa8" stroke-width="3.2"/>
<line x1="1039.2" y1="374.8" x2="1031.3" y2="361.5" stroke="#1e6aa8" stroke-width="3.2"/>
<line x1="1044.0" y1="372.5" x2="1038.8" y2="357.9" stroke="#1e6aa8" stroke-width="3.2"/>
<line x1="1049.1" y1="371.3" x2="1046.9" y2="355.9" stroke="#1e6aa8" stroke-width="3.2"/>
<line x1="1054.4" y1="371.0" x2="1055.2" y2="355.6" stroke="#1e6aa8" stroke-width="3.2"/>
<line x1="1059.6" y1="371.8" x2="1063.5" y2="356.8" stroke="#1e6aa8" stroke-width="3.2"/>
<line x1="1064.6" y1="373.6" x2="1071.3" y2="359.6" stroke="#1e6aa8" stroke-width="3.2"/>
<line x1="1069.2" y1="376.4" x2="1078.4" y2="363.9" stroke="#1e6aa8" stroke-width="3.2"/>
<line x1="1073.1" y1="379.9" x2="1084.6" y2="369.6" stroke="#f0e070" stroke-width="3.2"/>
<line x1="1076.2" y1="384.2" x2="1089.5" y2="376.3" stroke="#f0e070" stroke-width="3.2"/>
<line x1="1078.5" y1="389.0" x2="1093.1" y2="383.8" stroke="#f0e070" stroke-width="3.2"/>
<line x1="1079.7" y1="394.1" x2="1095.1" y2="391.9" stroke="#f0e070" stroke-width="3.2"/>
<circle cx="1095.4" cy="400.2" r="4.6" fill="url(#yelball)"/>
<circle cx="1094.2" cy="408.5" r="4.6" fill="url(#yelball)"/>
<circle cx="1091.4" cy="416.3" r="4.6" fill="url(#yelball)"/>
<circle cx="1087.1" cy="423.4" r="4.6" fill="url(#yelball)"/>
<circle cx="1081.4" cy="429.6" r="4.6" fill="url(#yelball)"/>
<circle cx="1074.7" cy="434.5" r="4.6" fill="url(#yelball)"/>
<circle cx="1067.2" cy="438.1" r="4.6" fill="url(#yelball)"/>
<circle cx="1059.1" cy="440.1" r="4.6" fill="url(#yelball)"/>
<circle cx="1050.8" cy="440.4" r="4.6" fill="url(#yelball)"/>
<circle cx="1042.5" cy="439.2" r="4.6" fill="url(#yelball)"/>
<circle cx="1034.7" cy="436.4" r="4.6" fill="url(#yelball)"/>
<circle cx="1027.6" cy="432.1" r="4.6" fill="url(#yelball)"/>
<circle cx="1021.4" cy="426.4" r="4.6" fill="url(#yelball)"/>
<circle cx="1016.5" cy="419.7" r="4.6" fill="url(#yelball)"/>
<circle cx="1012.9" cy="412.2" r="4.6" fill="url(#tealball)"/>
<circle cx="1010.9" cy="404.1" r="4.6" fill="url(#tealball)"/>
<circle cx="1010.6" cy="395.8" r="4.6" fill="url(#tealball)"/>
<circle cx="1011.8" cy="387.5" r="4.6" fill="url(#tealball)"/>
<circle cx="1014.6" cy="379.7" r="4.6" fill="url(#tealball)"/>
<circle cx="1018.9" cy="372.6" r="4.6" fill="url(#tealball)"/>
<circle cx="1024.6" cy="366.4" r="4.6" fill="url(#tealball)"/>
<circle cx="1031.3" cy="361.5" r="4.6" fill="url(#tealball)"/>
<circle cx="1038.8" cy="357.9" r="4.6" fill="url(#tealball)"/>
<circle cx="1046.9" cy="355.9" r="4.6" fill="url(#tealball)"/>
<circle cx="1055.2" cy="355.6" r="4.6" fill="url(#tealball)"/>
<circle cx="1063.5" cy="356.8" r="4.6" fill="url(#tealball)"/>
<circle cx="1071.3" cy="359.6" r="4.6" fill="url(#tealball)"/>
<circle cx="1078.4" cy="363.9" r="4.6" fill="url(#tealball)"/>
<circle cx="1084.6" cy="369.6" r="4.6" fill="url(#yelball)"/>
<circle cx="1089.5" cy="376.3" r="4.6" fill="url(#yelball)"/>
<circle cx="1093.1" cy="383.8" r="4.6" fill="url(#yelball)"/>
<circle cx="1095.1" cy="391.9" r="4.6" fill="url(#yelball)"/>
<circle cx="1081.0" cy="398.0" r="3" fill="#e8d84a"/>
<circle cx="1080.2" cy="404.7" r="3" fill="#e8d84a"/>
<circle cx="1077.8" cy="411.0" r="3" fill="#e8d84a"/>
<circle cx="1074.0" cy="416.6" r="3" fill="#e8d84a"/>
<circle cx="1068.9" cy="421.0" r="3" fill="#e8d84a"/>
<circle cx="1062.9" cy="424.2" r="3" fill="#e8d84a"/>
<circle cx="1056.4" cy="425.8" r="3" fill="#e8d84a"/>
<circle cx="1049.6" cy="425.8" r="3" fill="#e8d84a"/>
<circle cx="1043.1" cy="424.2" r="3" fill="#e8d84a"/>
<circle cx="1037.1" cy="421.0" r="3" fill="#e8d84a"/>
<circle cx="1032.0" cy="416.6" r="3" fill="#e8d84a"/>
<circle cx="1028.2" cy="411.0" r="3" fill="#e8d84a"/>
<circle cx="1025.8" cy="404.7" r="3" fill="#48c4c0"/>
<circle cx="1025.0" cy="398.0" r="3" fill="#48c4c0"/>
<circle cx="1025.8" cy="391.3" r="3" fill="#48c4c0"/>
<circle cx="1028.2" cy="385.0" r="3" fill="#48c4c0"/>
<circle cx="1032.0" cy="379.4" r="3" fill="#48c4c0"/>
<circle cx="1037.1" cy="375.0" r="3" fill="#48c4c0"/>
<circle cx="1043.1" cy="371.8" r="3" fill="#48c4c0"/>
<circle cx="1049.6" cy="370.2" r="3" fill="#48c4c0"/>
<circle cx="1056.4" cy="370.2" r="3" fill="#48c4c0"/>
<circle cx="1062.9" cy="371.8" r="3" fill="#48c4c0"/>
<circle cx="1068.9" cy="375.0" r="3" fill="#48c4c0"/>
<circle cx="1074.0" cy="379.4" r="3" fill="#e8d84a"/>
<circle cx="1077.8" cy="385.0" r="3" fill="#e8d84a"/>
<circle cx="1080.2" cy="391.3" r="3" fill="#e8d84a"/>
<circle cx="1053" cy="398" r="25.5" fill="url(#exo)"/>
<g transform="translate(1084 372) rotate(-34) scale(0.85) translate(-1084 -372)"><path d="M1071,366 L1076,366 L1076,364 L1081,364 L1081,366 L1087,366 L1087,364 L1092,364 L1092,366 L1097,366 L1097,378 L1092,378 L1092,380 L1087,380 L1087,378 L1081,378 L1081,380 L1076,380 L1076,378 L1071,378Z" fill="#2c335c"/><circle cx="1078" cy="370" r="0.8" fill="#fff"/><circle cx="1090" cy="374" r="0.8" fill="#fff"/><circle cx="1084" cy="368" r="0.7" fill="#fff"/><circle cx="1082" cy="375" r="0.6" fill="#fff"/></g>
<path d="M1062.8,431 L1062.8,450 M1055,463 C1055,446 1071,446 1071,463" stroke="#b42828" stroke-width="4" fill="none"/>
<path d="M1082,424 C1085,420 1087,430 1091,426 L1093,430" stroke="#111" stroke-width="1.6" fill="none"/>
<ellipse cx="1096" cy="434.5" rx="6.5" ry="4.2" fill="#50b482" transform="rotate(-20 1096 434.5)"/>
<path d="M1097,393 L1112,393 M1097,403 L1110,403" stroke="#c8c098" stroke-width="2.6"/><ellipse cx="1116" cy="393" rx="4" ry="2.6" fill="#c8c098"/><ellipse cx="1113" cy="403" rx="3.6" ry="2.4" fill="#c8c098"/>
<path d="M1029,431 L1029,438 M1032,431 L1032,438" stroke="#2a5c88" stroke-width="1.3"/><path d="M1024,442 c0,-3 4,-4 5,-1 c1,-3 5,-2 5,1 c2,1 1,5 -1,5 c1,2 -2,4 -4,2 c-2,2 -5,0 -4,-2 c-2,0 -3,-4 -1,-5z" fill="none" stroke="#2a5c88" stroke-width="1.3"/>
<path d="M1042,433 L1042,440 M1045,433 L1045,440" stroke="#2a9058" stroke-width="1.3"/><path d="M1037,445 c0,-3 4,-4 5,-1 c1,-3 5,-2 5,1 c2,1 1,5 -1,5 c1,2 -2,4 -4,2 c-2,2 -5,0 -4,-2 c-2,0 -3,-4 -1,-5z" fill="none" stroke="#2a9058" stroke-width="1.3"/>
<text x="871.3" y="481.8" class="b" font-size="17" fill="#111" textLength="363" lengthAdjust="spacingAndGlyphs">5. Biomimetic nanovesicles (e.g., exosomes)</text>
</svg></body></html>
